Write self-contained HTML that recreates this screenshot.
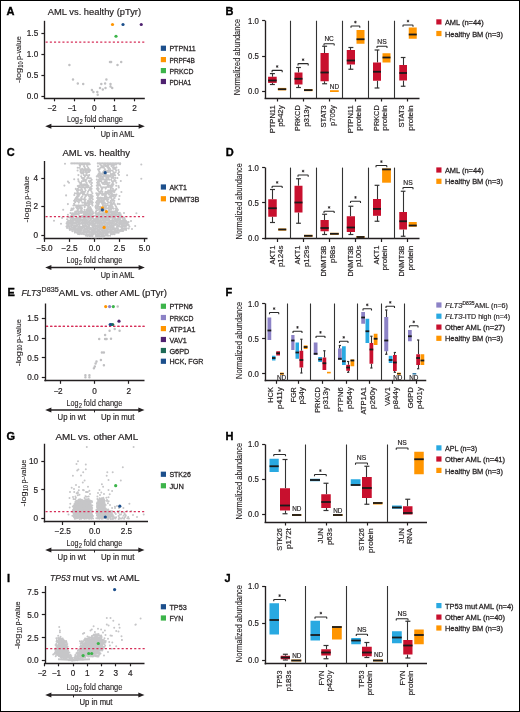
<!DOCTYPE html>
<html><head><meta charset="utf-8"><style>
html,body{margin:0;padding:0;background:#fff;overflow:hidden}
svg{will-change:transform}
svg{display:block;font-family:"Liberation Sans", sans-serif;fill:#231f20}
text{stroke:#231f20;stroke-width:0.18px;paint-order:stroke}
text.tk{stroke-width:0.2px}
text.al{stroke-width:0.12px}
text.lt{stroke:#000;stroke-width:0.35px}
text.st{stroke-width:0.15px}
text.lg{stroke-width:0.26px}
</style></head><body>
<svg width="520" height="712" viewBox="0 0 520 712">
<rect width="520" height="712" fill="#fff"/>
<rect x="0.5" y="0.5" width="519" height="711" fill="none" stroke="#000" stroke-width="1"/>
<text x="6.60" y="14.80" font-size="11.0" class="lt" font-weight="bold" fill="#000">A</text>
<text x="47.85" y="15.00" font-size="8.7" textLength="93.20" lengthAdjust="spacingAndGlyphs">AML vs. healthy (pTyr)</text>
<line x1="44.50" y1="20.80" x2="44.50" y2="98.70" stroke="#231f20" stroke-width="1.35"/>
<line x1="43.90" y1="98.50" x2="144.80" y2="98.50" stroke="#231f20" stroke-width="1.35"/>
<line x1="41.40" y1="96.50" x2="44.60" y2="96.50" stroke="#231f20" stroke-width="1.2"/>
<text x="38.20" y="99.40" font-size="8.2" class="tk" text-anchor="end">0.0</text>
<line x1="41.40" y1="75.50" x2="44.60" y2="75.50" stroke="#231f20" stroke-width="1.2"/>
<text x="38.20" y="78.40" font-size="8.2" class="tk" text-anchor="end">0.5</text>
<line x1="41.40" y1="54.50" x2="44.60" y2="54.50" stroke="#231f20" stroke-width="1.2"/>
<text x="38.20" y="57.40" font-size="8.2" class="tk" text-anchor="end">1.0</text>
<line x1="41.40" y1="33.50" x2="44.60" y2="33.50" stroke="#231f20" stroke-width="1.2"/>
<text x="38.20" y="36.40" font-size="8.2" class="tk" text-anchor="end">1.5</text>
<line x1="54.50" y1="98.00" x2="54.50" y2="101.30" stroke="#231f20" stroke-width="1.2"/>
<text x="54.20" y="110.70" font-size="8.2" class="tk" text-anchor="middle">2</text>
<text x="52.60" y="110.70" font-size="8.2" class="tk" text-anchor="end">−</text>
<line x1="74.50" y1="98.00" x2="74.50" y2="101.30" stroke="#231f20" stroke-width="1.2"/>
<text x="74.30" y="110.70" font-size="8.2" class="tk" text-anchor="middle">1</text>
<text x="72.70" y="110.70" font-size="8.2" class="tk" text-anchor="end">−</text>
<line x1="94.50" y1="98.00" x2="94.50" y2="101.30" stroke="#231f20" stroke-width="1.2"/>
<text x="94.40" y="110.70" font-size="8.2" class="tk" text-anchor="middle">0</text>
<line x1="114.50" y1="98.00" x2="114.50" y2="101.30" stroke="#231f20" stroke-width="1.2"/>
<text x="114.50" y="110.70" font-size="8.2" class="tk" text-anchor="middle">1</text>
<line x1="134.50" y1="98.00" x2="134.50" y2="101.30" stroke="#231f20" stroke-width="1.2"/>
<text x="134.60" y="110.70" font-size="8.2" class="tk" text-anchor="middle">2</text>
<line x1="45.60" y1="42.00" x2="144.80" y2="42.00" stroke="#d62e58" stroke-width="1.25" stroke-dasharray="2.1 2.1"/>
<text transform="translate(20.90 83.00) rotate(-90)" font-size="8.0" class="al" textLength="15.00" lengthAdjust="spacingAndGlyphs">-log</text>
<text transform="translate(22.50 67.70) rotate(-90)" font-size="6.4" class="al" textLength="6.20" lengthAdjust="spacingAndGlyphs">10</text>
<text transform="translate(20.90 59.90) rotate(-90)" font-size="8.0" class="al" textLength="23.60" lengthAdjust="spacingAndGlyphs">p-value</text>
<text x="67.10" y="122.10" font-size="8.9" class="al" textLength="12.00" lengthAdjust="spacingAndGlyphs">Log</text>
<text x="79.40" y="124.40" font-size="6.3" class="al" textLength="3.20" lengthAdjust="spacingAndGlyphs">2</text>
<text x="84.40" y="122.10" font-size="8.9" class="al" textLength="38.60" lengthAdjust="spacingAndGlyphs">fold change</text>
<line x1="49.20" y1="126.30" x2="140.80" y2="126.30" stroke="#231f20" stroke-width="1.35"/>
<path d="M45.20 126.30 L51.40 123.80 L51.40 128.80 Z" fill="#231f20"/>
<path d="M144.80 126.30 L138.60 123.80 L138.60 128.80 Z" fill="#231f20"/>
<line x1="94.50" y1="126.30" x2="94.50" y2="128.70" stroke="#231f20" stroke-width="1"/>
<text x="100.70" y="136.70" font-size="8.4" textLength="33.70" lengthAdjust="spacingAndGlyphs">Up in AML</text>
<path d="M69.4 65.1h0M73.0 79.6h0M77.8 83.6h0M83.2 83.9h0M91.9 90.0h0M93.4 92.0h0M97.3 92.0h0M97.7 94.8h0M100.0 88.1h0M102.8 89.4h0M101.3 83.9h0M105.1 83.4h0M105.5 88.0h0M106.4 79.6h0M110.5 83.9h0M110.5 86.6h0M112.2 88.0h0M110.0 62.1h0M111.1 62.1h0M117.5 65.1h0M121.2 62.1h0" stroke="#c0c0c2" stroke-width="2.50" stroke-linecap="round" fill="none"/>
<circle cx="112.50" cy="24.50" r="1.6" fill="#ff9500"/>
<circle cx="123.00" cy="24.50" r="1.6" fill="#1c4f8c"/>
<circle cx="141.25" cy="24.50" r="1.6" fill="#4f2270"/>
<circle cx="116.00" cy="36.25" r="1.6" fill="#3cb44a"/>
<rect x="160.80" y="45.65" width="5.20" height="5.20" fill="#1c4f8c"/>
<text x="169.40" y="51.35" font-size="7.7" class="lg" textLength="26.20" lengthAdjust="spacingAndGlyphs">PTPN11</text>
<rect x="160.80" y="57.00" width="5.20" height="5.20" fill="#ff9500"/>
<text x="169.40" y="62.70" font-size="7.7" class="lg" textLength="25.50" lengthAdjust="spacingAndGlyphs">PRPF4B</text>
<rect x="160.80" y="68.00" width="5.20" height="5.20" fill="#3cb44a"/>
<text x="169.40" y="73.70" font-size="7.7" class="lg" textLength="24.00" lengthAdjust="spacingAndGlyphs">PRKCD</text>
<rect x="160.80" y="78.90" width="5.20" height="5.20" fill="#4f2270"/>
<text x="169.40" y="84.60" font-size="7.7" class="lg" textLength="21.80" lengthAdjust="spacingAndGlyphs">PDHA1</text>
<text x="225.60" y="14.80" font-size="11.0" class="lt" font-weight="bold" fill="#000">B</text>
<line x1="265.50" y1="20.75" x2="265.50" y2="98.90" stroke="#231f20" stroke-width="1.35"/>
<line x1="264.60" y1="98.50" x2="419.50" y2="98.50" stroke="#231f20" stroke-width="1.35"/>
<line x1="262.10" y1="91.50" x2="265.30" y2="91.50" stroke="#231f20" stroke-width="1.2"/>
<text x="258.90" y="94.40" font-size="8.2" class="tk" text-anchor="end" textLength="10.80" lengthAdjust="spacingAndGlyphs">0.0</text>
<line x1="262.10" y1="56.50" x2="265.30" y2="56.50" stroke="#231f20" stroke-width="1.2"/>
<text x="258.90" y="59.02" font-size="8.2" class="tk" text-anchor="end" textLength="10.80" lengthAdjust="spacingAndGlyphs">0.5</text>
<line x1="262.10" y1="20.50" x2="265.30" y2="20.50" stroke="#231f20" stroke-width="1.2"/>
<text x="258.90" y="23.65" font-size="8.2" class="tk" text-anchor="end" textLength="10.80" lengthAdjust="spacingAndGlyphs">1.0</text>
<line x1="290.50" y1="20.75" x2="290.50" y2="98.20" stroke="#333" stroke-width="1.1"/>
<line x1="316.50" y1="20.75" x2="316.50" y2="98.20" stroke="#333" stroke-width="1.1"/>
<line x1="342.50" y1="20.75" x2="342.50" y2="98.20" stroke="#333" stroke-width="1.1"/>
<line x1="368.50" y1="20.75" x2="368.50" y2="98.20" stroke="#333" stroke-width="1.1"/>
<line x1="394.50" y1="20.75" x2="394.50" y2="98.20" stroke="#333" stroke-width="1.1"/>
<line x1="277.50" y1="98.20" x2="277.50" y2="101.50" stroke="#231f20" stroke-width="1.2"/>
<line x1="303.50" y1="98.20" x2="303.50" y2="101.50" stroke="#231f20" stroke-width="1.2"/>
<line x1="329.50" y1="98.20" x2="329.50" y2="101.50" stroke="#231f20" stroke-width="1.2"/>
<line x1="355.50" y1="98.20" x2="355.50" y2="101.50" stroke="#231f20" stroke-width="1.2"/>
<line x1="381.50" y1="98.20" x2="381.50" y2="101.50" stroke="#231f20" stroke-width="1.2"/>
<line x1="407.50" y1="98.20" x2="407.50" y2="101.50" stroke="#231f20" stroke-width="1.2"/>
<text transform="translate(240.00 95.30) rotate(-90)" font-size="9.9" class="al" textLength="76.45" lengthAdjust="spacingAndGlyphs">Normalized abundance</text>
<line x1="272.50" y1="73.60" x2="272.50" y2="76.75" stroke="#333" stroke-width="1.1"/>
<line x1="269.90" y1="73.60" x2="274.90" y2="73.60" stroke="#333" stroke-width="1.2"/>
<line x1="272.50" y1="82.90" x2="272.50" y2="84.50" stroke="#333" stroke-width="1.1"/>
<line x1="269.90" y1="84.50" x2="274.90" y2="84.50" stroke="#333" stroke-width="1.2"/>
<rect x="268.10" y="76.75" width="8.60" height="6.15" fill="#c8102e"/>
<line x1="268.10" y1="80.50" x2="276.70" y2="80.50" stroke="#1a1a1a" stroke-width="1.8"/>
<rect x="277.90" y="87.90" width="8.30" height="2.50" fill="#ff9500"/>
<line x1="277.90" y1="89.20" x2="286.20" y2="89.20" stroke="#1a1a1a" stroke-width="1.8"/>
<line x1="298.50" y1="67.50" x2="298.50" y2="72.50" stroke="#333" stroke-width="1.1"/>
<line x1="296.10" y1="67.50" x2="300.90" y2="67.50" stroke="#333" stroke-width="1.2"/>
<line x1="298.50" y1="84.50" x2="298.50" y2="87.50" stroke="#333" stroke-width="1.1"/>
<line x1="296.10" y1="87.50" x2="300.90" y2="87.50" stroke="#333" stroke-width="1.2"/>
<rect x="294.50" y="72.50" width="8.00" height="12.00" fill="#c8102e"/>
<line x1="294.50" y1="78.75" x2="302.50" y2="78.75" stroke="#1a1a1a" stroke-width="1.8"/>
<rect x="304.00" y="89.00" width="8.50" height="2.20" fill="#ff9500"/>
<line x1="304.00" y1="90.10" x2="312.50" y2="90.10" stroke="#1a1a1a" stroke-width="1.8"/>
<line x1="324.50" y1="46.25" x2="324.50" y2="53.00" stroke="#333" stroke-width="1.1"/>
<line x1="322.15" y1="46.25" x2="327.10" y2="46.25" stroke="#333" stroke-width="1.2"/>
<line x1="324.50" y1="81.25" x2="324.50" y2="83.75" stroke="#333" stroke-width="1.1"/>
<line x1="322.15" y1="83.75" x2="327.10" y2="83.75" stroke="#333" stroke-width="1.2"/>
<rect x="320.50" y="53.00" width="8.25" height="28.25" fill="#c8102e"/>
<line x1="320.50" y1="72.50" x2="328.75" y2="72.50" stroke="#1a1a1a" stroke-width="1.8"/>
<rect x="330.00" y="90.20" width="8.75" height="1.80" fill="#ff9500"/>
<text x="334.40" y="89.10" font-size="6.6" text-anchor="middle" textLength="9.20" lengthAdjust="spacingAndGlyphs">ND</text>
<line x1="350.50" y1="47.50" x2="350.50" y2="50.00" stroke="#333" stroke-width="1.1"/>
<line x1="348.40" y1="47.50" x2="353.35" y2="47.50" stroke="#333" stroke-width="1.2"/>
<line x1="350.50" y1="64.50" x2="350.50" y2="69.25" stroke="#333" stroke-width="1.1"/>
<line x1="348.40" y1="69.25" x2="353.35" y2="69.25" stroke="#333" stroke-width="1.2"/>
<rect x="346.75" y="50.00" width="8.25" height="14.50" fill="#c8102e"/>
<line x1="346.75" y1="60.50" x2="355.00" y2="60.50" stroke="#1a1a1a" stroke-width="1.8"/>
<rect x="356.50" y="30.00" width="8.00" height="13.75" fill="#ff9500"/>
<line x1="356.50" y1="39.25" x2="364.50" y2="39.25" stroke="#1a1a1a" stroke-width="1.8"/>
<line x1="377.50" y1="50.00" x2="377.50" y2="62.50" stroke="#333" stroke-width="1.1"/>
<line x1="374.60" y1="50.00" x2="379.40" y2="50.00" stroke="#333" stroke-width="1.2"/>
<line x1="377.50" y1="80.75" x2="377.50" y2="88.00" stroke="#333" stroke-width="1.1"/>
<line x1="374.60" y1="88.00" x2="379.40" y2="88.00" stroke="#333" stroke-width="1.2"/>
<rect x="373.00" y="62.50" width="8.00" height="18.25" fill="#c8102e"/>
<line x1="373.00" y1="71.75" x2="381.00" y2="71.75" stroke="#1a1a1a" stroke-width="1.8"/>
<rect x="382.50" y="53.25" width="8.00" height="9.25" fill="#ff9500"/>
<line x1="382.50" y1="57.50" x2="390.50" y2="57.50" stroke="#1a1a1a" stroke-width="1.8"/>
<line x1="403.50" y1="57.50" x2="403.50" y2="65.00" stroke="#333" stroke-width="1.1"/>
<line x1="400.80" y1="57.50" x2="405.45" y2="57.50" stroke="#333" stroke-width="1.2"/>
<line x1="403.50" y1="80.50" x2="403.50" y2="86.25" stroke="#333" stroke-width="1.1"/>
<line x1="400.80" y1="86.25" x2="405.45" y2="86.25" stroke="#333" stroke-width="1.2"/>
<rect x="399.25" y="65.00" width="7.75" height="15.50" fill="#c8102e"/>
<line x1="399.25" y1="73.00" x2="407.00" y2="73.00" stroke="#1a1a1a" stroke-width="1.8"/>
<rect x="408.75" y="27.50" width="8.00" height="11.25" fill="#ff9500"/>
<line x1="408.75" y1="34.50" x2="416.75" y2="34.50" stroke="#1a1a1a" stroke-width="1.8"/>
<path d="M272.10 72.20 V71.00 Q272.10 70.40 272.70 70.40 H281.60 Q282.20 70.40 282.20 71.00 V72.20" stroke="#2a2a2a" stroke-width="1.1" fill="none"/>
<path d="M277.15 65.15L277.15 67.85M275.98 65.83L278.32 67.17M278.32 65.83L275.98 67.17" stroke="#231f20" stroke-width="0.75" fill="none"/>
<path d="M298.00 65.40 V64.20 Q298.00 63.60 298.60 63.60 H307.60 Q308.20 63.60 308.20 64.20 V65.40" stroke="#2a2a2a" stroke-width="1.1" fill="none"/>
<path d="M303.10 58.35L303.10 61.05M301.93 59.03L304.27 60.38M304.27 59.03L301.93 60.38" stroke="#231f20" stroke-width="0.75" fill="none"/>
<path d="M324.00 45.60 V44.40 Q324.00 43.80 324.60 43.80 H333.60 Q334.20 43.80 334.20 44.40 V45.60" stroke="#2a2a2a" stroke-width="1.1" fill="none"/>
<text x="329.10" y="41.20" font-size="6.8" text-anchor="middle" textLength="9.40" lengthAdjust="spacingAndGlyphs">NC</text>
<path d="M351.00 27.80 V26.60 Q351.00 26.00 351.60 26.00 H359.20 Q359.80 26.00 359.80 26.60 V27.80" stroke="#2a2a2a" stroke-width="1.1" fill="none"/>
<path d="M355.40 20.75L355.40 23.45M354.23 21.43L356.57 22.78M356.57 21.43L354.23 22.78" stroke="#231f20" stroke-width="0.75" fill="none"/>
<path d="M377.00 48.00 V46.80 Q377.00 46.20 377.60 46.20 H386.40 Q387.00 46.20 387.00 46.80 V48.00" stroke="#2a2a2a" stroke-width="1.1" fill="none"/>
<text x="382.00" y="43.60" font-size="6.8" text-anchor="middle" textLength="9.40" lengthAdjust="spacingAndGlyphs">NS</text>
<path d="M403.00 26.80 V25.60 Q403.00 25.00 403.60 25.00 H412.40 Q413.00 25.00 413.00 25.60 V26.80" stroke="#2a2a2a" stroke-width="1.1" fill="none"/>
<path d="M408.00 19.75L408.00 22.45M406.83 20.43L409.17 21.78M409.17 20.43L406.83 21.78" stroke="#231f20" stroke-width="0.75" fill="none"/>
<text transform="translate(274.90 105.30) rotate(-90)" font-size="7.9" text-anchor="end" textLength="28.00" lengthAdjust="spacingAndGlyphs">PTPN11</text>
<text transform="translate(283.40 105.30) rotate(-90)" font-size="7.9" text-anchor="end" textLength="21.50" lengthAdjust="spacingAndGlyphs">p542y</text>
<text transform="translate(300.40 105.30) rotate(-90)" font-size="7.9" text-anchor="end" textLength="25.70" lengthAdjust="spacingAndGlyphs">PRKCD</text>
<text transform="translate(308.90 105.30) rotate(-90)" font-size="7.9" text-anchor="end" textLength="21.50" lengthAdjust="spacingAndGlyphs">p313y</text>
<text transform="translate(326.30 105.30) rotate(-90)" font-size="7.9" text-anchor="end" textLength="22.30" lengthAdjust="spacingAndGlyphs">STAT3</text>
<text transform="translate(334.80 105.30) rotate(-90)" font-size="7.9" text-anchor="end" textLength="20.80" lengthAdjust="spacingAndGlyphs">p705y</text>
<text transform="translate(352.50 105.30) rotate(-90)" font-size="7.9" text-anchor="end" textLength="28.00" lengthAdjust="spacingAndGlyphs">PTPN11</text>
<text transform="translate(361.00 105.30) rotate(-90)" font-size="7.9" text-anchor="end" textLength="25.40" lengthAdjust="spacingAndGlyphs">protein</text>
<text transform="translate(378.50 105.30) rotate(-90)" font-size="7.9" text-anchor="end" textLength="25.70" lengthAdjust="spacingAndGlyphs">PRKCD</text>
<text transform="translate(387.00 105.30) rotate(-90)" font-size="7.9" text-anchor="end" textLength="25.40" lengthAdjust="spacingAndGlyphs">protein</text>
<text transform="translate(404.00 105.30) rotate(-90)" font-size="7.9" text-anchor="end" textLength="22.30" lengthAdjust="spacingAndGlyphs">STAT3</text>
<text transform="translate(412.50 105.30) rotate(-90)" font-size="7.9" text-anchor="end" textLength="25.40" lengthAdjust="spacingAndGlyphs">protein</text>
<rect x="436.30" y="19.30" width="5.20" height="5.20" fill="#c8102e"/>
<text x="444.90" y="25.00" font-size="7.7" class="lg" textLength="38.80" lengthAdjust="spacingAndGlyphs">AML (n=44)</text>
<rect x="436.30" y="30.90" width="5.20" height="5.20" fill="#ff9500"/>
<text x="444.90" y="36.60" font-size="7.7" class="lg" textLength="58.00" lengthAdjust="spacingAndGlyphs">Healthy BM (n=3)</text>
<text x="6.80" y="155.90" font-size="11.0" class="lt" font-weight="bold" fill="#000">C</text>
<text x="62.50" y="155.50" font-size="8.7" textLength="67.50" lengthAdjust="spacingAndGlyphs">AML vs. healthy</text>
<line x1="44.50" y1="161.00" x2="44.50" y2="239.30" stroke="#231f20" stroke-width="1.35"/>
<line x1="43.80" y1="238.50" x2="147.50" y2="238.50" stroke="#231f20" stroke-width="1.35"/>
<line x1="41.30" y1="235.50" x2="44.50" y2="235.50" stroke="#231f20" stroke-width="1.2"/>
<text x="38.10" y="237.90" font-size="8.2" class="tk" text-anchor="end">0</text>
<line x1="41.30" y1="206.50" x2="44.50" y2="206.50" stroke="#231f20" stroke-width="1.2"/>
<text x="38.10" y="209.40" font-size="8.2" class="tk" text-anchor="end">2</text>
<line x1="41.30" y1="178.50" x2="44.50" y2="178.50" stroke="#231f20" stroke-width="1.2"/>
<text x="38.10" y="180.90" font-size="8.2" class="tk" text-anchor="end">4</text>
<line x1="44.50" y1="238.60" x2="44.50" y2="241.90" stroke="#231f20" stroke-width="1.2"/>
<text x="44.50" y="251.30" font-size="8.2" class="tk" text-anchor="middle">−5.0</text>
<line x1="69.50" y1="238.60" x2="69.50" y2="241.90" stroke="#231f20" stroke-width="1.2"/>
<text x="69.50" y="251.30" font-size="8.2" class="tk" text-anchor="middle">−2.5</text>
<line x1="94.50" y1="238.60" x2="94.50" y2="241.90" stroke="#231f20" stroke-width="1.2"/>
<text x="94.50" y="251.30" font-size="8.2" class="tk" text-anchor="middle">0.0</text>
<line x1="119.50" y1="238.60" x2="119.50" y2="241.90" stroke="#231f20" stroke-width="1.2"/>
<text x="119.50" y="251.30" font-size="8.2" class="tk" text-anchor="middle">2.5</text>
<line x1="144.50" y1="238.60" x2="144.50" y2="241.90" stroke="#231f20" stroke-width="1.2"/>
<text x="144.50" y="251.30" font-size="8.2" class="tk" text-anchor="middle">5.0</text>
<text transform="translate(28.90 222.50) rotate(-90)" font-size="8.0" class="al" textLength="14.84" lengthAdjust="spacingAndGlyphs">-log</text>
<text transform="translate(30.50 207.36) rotate(-90)" font-size="6.4" class="al" textLength="6.13" lengthAdjust="spacingAndGlyphs">10</text>
<text transform="translate(28.90 199.65) rotate(-90)" font-size="8.0" class="al" textLength="23.35" lengthAdjust="spacingAndGlyphs">p-value</text>
<text x="66.50" y="263.00" font-size="8.9" class="al" textLength="12.00" lengthAdjust="spacingAndGlyphs">Log</text>
<text x="78.80" y="265.30" font-size="6.3" class="al" textLength="3.20" lengthAdjust="spacingAndGlyphs">2</text>
<text x="83.80" y="263.00" font-size="8.9" class="al" textLength="38.60" lengthAdjust="spacingAndGlyphs">fold change</text>
<line x1="49.20" y1="267.50" x2="140.80" y2="267.50" stroke="#231f20" stroke-width="1.35"/>
<path d="M45.20 267.50 L51.40 265.00 L51.40 270.00 Z" fill="#231f20"/>
<path d="M144.80 267.50 L138.60 265.00 L138.60 270.00 Z" fill="#231f20"/>
<line x1="94.50" y1="267.50" x2="94.50" y2="269.90" stroke="#231f20" stroke-width="1"/>
<text x="100.70" y="277.50" font-size="8.4" textLength="33.70" lengthAdjust="spacingAndGlyphs">Up in AML</text>
<rect x="160.80" y="184.40" width="5.20" height="5.20" fill="#1c4f8c"/>
<text x="169.40" y="190.10" font-size="7.7" class="lg" textLength="17.50" lengthAdjust="spacingAndGlyphs">AKT1</text>
<rect x="160.80" y="196.15" width="5.20" height="5.20" fill="#ff9500"/>
<text x="169.40" y="201.85" font-size="7.7" class="lg" textLength="30.00" lengthAdjust="spacingAndGlyphs">DNMT3B</text>
<text x="225.80" y="155.90" font-size="11.0" class="lt" font-weight="bold" fill="#000">D</text>
<line x1="265.50" y1="167.60" x2="265.50" y2="239.40" stroke="#231f20" stroke-width="1.35"/>
<line x1="264.60" y1="238.50" x2="419.50" y2="238.50" stroke="#231f20" stroke-width="1.35"/>
<line x1="262.10" y1="238.50" x2="265.30" y2="238.50" stroke="#231f20" stroke-width="1.2"/>
<text x="258.90" y="241.10" font-size="8.2" class="tk" text-anchor="end" textLength="10.80" lengthAdjust="spacingAndGlyphs">0.0</text>
<line x1="262.10" y1="202.50" x2="265.30" y2="202.50" stroke="#231f20" stroke-width="1.2"/>
<text x="258.90" y="205.80" font-size="8.2" class="tk" text-anchor="end" textLength="10.80" lengthAdjust="spacingAndGlyphs">0.5</text>
<line x1="262.10" y1="167.50" x2="265.30" y2="167.50" stroke="#231f20" stroke-width="1.2"/>
<text x="258.90" y="170.50" font-size="8.2" class="tk" text-anchor="end" textLength="10.80" lengthAdjust="spacingAndGlyphs">1.0</text>
<line x1="290.50" y1="167.60" x2="290.50" y2="238.70" stroke="#333" stroke-width="1.1"/>
<line x1="316.50" y1="167.60" x2="316.50" y2="238.70" stroke="#333" stroke-width="1.1"/>
<line x1="342.50" y1="167.60" x2="342.50" y2="238.70" stroke="#333" stroke-width="1.1"/>
<line x1="368.50" y1="167.60" x2="368.50" y2="238.70" stroke="#333" stroke-width="1.1"/>
<line x1="394.50" y1="167.60" x2="394.50" y2="238.70" stroke="#333" stroke-width="1.1"/>
<line x1="277.50" y1="238.70" x2="277.50" y2="242.00" stroke="#231f20" stroke-width="1.2"/>
<line x1="303.50" y1="238.70" x2="303.50" y2="242.00" stroke="#231f20" stroke-width="1.2"/>
<line x1="329.50" y1="238.70" x2="329.50" y2="242.00" stroke="#231f20" stroke-width="1.2"/>
<line x1="355.50" y1="238.70" x2="355.50" y2="242.00" stroke="#231f20" stroke-width="1.2"/>
<line x1="381.50" y1="238.70" x2="381.50" y2="242.00" stroke="#231f20" stroke-width="1.2"/>
<line x1="407.50" y1="238.70" x2="407.50" y2="242.00" stroke="#231f20" stroke-width="1.2"/>
<text transform="translate(241.90 239.50) rotate(-90)" font-size="9.9" class="al" textLength="76.30" lengthAdjust="spacingAndGlyphs">Normalized abundance</text>
<line x1="272.50" y1="189.50" x2="272.50" y2="199.25" stroke="#333" stroke-width="1.1"/>
<line x1="270.00" y1="189.50" x2="275.00" y2="189.50" stroke="#333" stroke-width="1.2"/>
<line x1="272.50" y1="216.75" x2="272.50" y2="222.50" stroke="#333" stroke-width="1.1"/>
<line x1="270.00" y1="222.50" x2="275.00" y2="222.50" stroke="#333" stroke-width="1.2"/>
<rect x="268.25" y="199.25" width="8.50" height="17.50" fill="#c8102e"/>
<line x1="268.25" y1="208.25" x2="276.75" y2="208.25" stroke="#1a1a1a" stroke-width="1.8"/>
<rect x="278.25" y="228.50" width="8.00" height="2.10" fill="#ff9500"/>
<line x1="278.25" y1="229.50" x2="286.25" y2="229.50" stroke="#1a1a1a" stroke-width="1.8"/>
<line x1="298.50" y1="178.75" x2="298.50" y2="185.75" stroke="#333" stroke-width="1.1"/>
<line x1="296.10" y1="178.75" x2="300.90" y2="178.75" stroke="#333" stroke-width="1.2"/>
<line x1="298.50" y1="212.50" x2="298.50" y2="223.25" stroke="#333" stroke-width="1.1"/>
<line x1="296.10" y1="223.25" x2="300.90" y2="223.25" stroke="#333" stroke-width="1.2"/>
<rect x="294.50" y="185.75" width="8.00" height="26.75" fill="#c8102e"/>
<line x1="294.50" y1="202.50" x2="302.50" y2="202.50" stroke="#1a1a1a" stroke-width="1.8"/>
<rect x="304.00" y="234.80" width="8.50" height="2.00" fill="#ff9500"/>
<line x1="304.00" y1="235.80" x2="312.50" y2="235.80" stroke="#1a1a1a" stroke-width="1.8"/>
<line x1="324.50" y1="214.25" x2="324.50" y2="220.00" stroke="#333" stroke-width="1.1"/>
<line x1="322.15" y1="214.25" x2="327.10" y2="214.25" stroke="#333" stroke-width="1.2"/>
<line x1="324.50" y1="231.25" x2="324.50" y2="234.50" stroke="#333" stroke-width="1.1"/>
<line x1="322.15" y1="234.50" x2="327.10" y2="234.50" stroke="#333" stroke-width="1.2"/>
<rect x="320.50" y="220.00" width="8.25" height="11.25" fill="#c8102e"/>
<line x1="320.50" y1="228.00" x2="328.75" y2="228.00" stroke="#1a1a1a" stroke-width="1.8"/>
<rect x="330.00" y="232.80" width="8.75" height="2.00" fill="#ff9500"/>
<line x1="330.00" y1="233.80" x2="338.75" y2="233.80" stroke="#1a1a1a" stroke-width="1.8"/>
<line x1="350.50" y1="206.25" x2="350.50" y2="216.25" stroke="#333" stroke-width="1.1"/>
<line x1="348.40" y1="206.25" x2="353.35" y2="206.25" stroke="#333" stroke-width="1.2"/>
<line x1="350.50" y1="232.00" x2="350.50" y2="234.50" stroke="#333" stroke-width="1.1"/>
<line x1="348.40" y1="234.50" x2="353.35" y2="234.50" stroke="#333" stroke-width="1.2"/>
<rect x="346.75" y="216.25" width="8.25" height="15.75" fill="#c8102e"/>
<line x1="346.75" y1="227.50" x2="355.00" y2="227.50" stroke="#1a1a1a" stroke-width="1.8"/>
<rect x="356.50" y="236.00" width="8.00" height="2.00" fill="#ff9500"/>
<line x1="356.50" y1="237.00" x2="364.50" y2="237.00" stroke="#1a1a1a" stroke-width="1.8"/>
<line x1="377.50" y1="185.30" x2="377.50" y2="199.00" stroke="#333" stroke-width="1.1"/>
<line x1="374.60" y1="185.30" x2="379.40" y2="185.30" stroke="#333" stroke-width="1.2"/>
<line x1="377.50" y1="215.80" x2="377.50" y2="221.25" stroke="#333" stroke-width="1.1"/>
<line x1="374.60" y1="221.25" x2="379.40" y2="221.25" stroke="#333" stroke-width="1.2"/>
<rect x="373.00" y="199.00" width="8.00" height="16.80" fill="#c8102e"/>
<line x1="373.00" y1="208.90" x2="381.00" y2="208.90" stroke="#1a1a1a" stroke-width="1.8"/>
<rect x="382.10" y="168.40" width="8.80" height="14.30" fill="#ff9500"/>
<line x1="382.10" y1="169.40" x2="390.90" y2="169.40" stroke="#1a1a1a" stroke-width="1.8"/>
<line x1="403.50" y1="191.25" x2="403.50" y2="212.00" stroke="#333" stroke-width="1.1"/>
<line x1="400.80" y1="191.25" x2="405.45" y2="191.25" stroke="#333" stroke-width="1.2"/>
<line x1="403.50" y1="229.50" x2="403.50" y2="236.25" stroke="#333" stroke-width="1.1"/>
<line x1="400.80" y1="236.25" x2="405.45" y2="236.25" stroke="#333" stroke-width="1.2"/>
<rect x="399.25" y="212.00" width="7.75" height="17.50" fill="#c8102e"/>
<line x1="399.25" y1="221.25" x2="407.00" y2="221.25" stroke="#1a1a1a" stroke-width="1.8"/>
<rect x="408.75" y="222.00" width="8.00" height="4.75" fill="#ff9500"/>
<line x1="408.75" y1="225.50" x2="416.75" y2="225.50" stroke="#1a1a1a" stroke-width="1.8"/>
<path d="M272.10 188.10 V186.90 Q272.10 186.30 272.70 186.30 H281.60 Q282.20 186.30 282.20 186.90 V188.10" stroke="#2a2a2a" stroke-width="1.1" fill="none"/>
<path d="M277.15 181.05L277.15 183.75M275.98 181.72L278.32 183.08M278.32 181.72L275.98 183.08" stroke="#231f20" stroke-width="0.75" fill="none"/>
<path d="M298.00 176.80 V175.60 Q298.00 175.00 298.60 175.00 H307.60 Q308.20 175.00 308.20 175.60 V176.80" stroke="#2a2a2a" stroke-width="1.1" fill="none"/>
<path d="M303.10 169.75L303.10 172.45M301.93 170.42L304.27 171.78M304.27 170.42L301.93 171.78" stroke="#231f20" stroke-width="0.75" fill="none"/>
<path d="M324.00 213.10 V211.90 Q324.00 211.30 324.60 211.30 H333.60 Q334.20 211.30 334.20 211.90 V213.10" stroke="#2a2a2a" stroke-width="1.1" fill="none"/>
<path d="M329.10 206.05L329.10 208.75M327.93 206.72L330.27 208.08M330.27 206.72L327.93 208.08" stroke="#231f20" stroke-width="0.75" fill="none"/>
<path d="M350.50 203.10 V201.90 Q350.50 201.30 351.10 201.30 H359.90 Q360.50 201.30 360.50 201.90 V203.10" stroke="#2a2a2a" stroke-width="1.1" fill="none"/>
<path d="M355.50 196.05L355.50 198.75M354.33 196.72L356.67 198.08M356.67 196.72L354.33 198.08" stroke="#231f20" stroke-width="0.75" fill="none"/>
<path d="M376.00 167.30 V166.10 Q376.00 165.50 376.60 165.50 H386.20 Q386.80 165.50 386.80 166.10 V167.30" stroke="#2a2a2a" stroke-width="1.1" fill="none"/>
<path d="M381.40 160.25L381.40 162.95M380.23 160.92L382.57 162.28M382.57 160.92L380.23 162.28" stroke="#231f20" stroke-width="0.75" fill="none"/>
<path d="M403.00 189.30 V188.10 Q403.00 187.50 403.60 187.50 H412.40 Q413.00 187.50 413.00 188.10 V189.30" stroke="#2a2a2a" stroke-width="1.1" fill="none"/>
<text x="408.00" y="184.90" font-size="6.8" text-anchor="middle" textLength="9.40" lengthAdjust="spacingAndGlyphs">NS</text>
<text transform="translate(274.90 245.60) rotate(-90)" font-size="7.9" text-anchor="end" textLength="19.00" lengthAdjust="spacingAndGlyphs">AKT1</text>
<text transform="translate(283.40 245.60) rotate(-90)" font-size="7.9" text-anchor="end" textLength="21.50" lengthAdjust="spacingAndGlyphs">p124s</text>
<text transform="translate(300.40 245.60) rotate(-90)" font-size="7.9" text-anchor="end" textLength="19.00" lengthAdjust="spacingAndGlyphs">AKT1</text>
<text transform="translate(308.90 245.60) rotate(-90)" font-size="7.9" text-anchor="end" textLength="21.50" lengthAdjust="spacingAndGlyphs">p129s</text>
<text transform="translate(326.30 245.60) rotate(-90)" font-size="7.9" text-anchor="end" textLength="31.00" lengthAdjust="spacingAndGlyphs">DNMT3B</text>
<text transform="translate(334.80 245.60) rotate(-90)" font-size="7.9" text-anchor="end" textLength="17.50" lengthAdjust="spacingAndGlyphs">p98s</text>
<text transform="translate(352.50 245.60) rotate(-90)" font-size="7.9" text-anchor="end" textLength="31.00" lengthAdjust="spacingAndGlyphs">DNMT3B</text>
<text transform="translate(361.00 245.60) rotate(-90)" font-size="7.9" text-anchor="end" textLength="21.50" lengthAdjust="spacingAndGlyphs">p100s</text>
<text transform="translate(378.50 245.60) rotate(-90)" font-size="7.9" text-anchor="end" textLength="19.00" lengthAdjust="spacingAndGlyphs">AKT1</text>
<text transform="translate(387.00 245.60) rotate(-90)" font-size="7.9" text-anchor="end" textLength="25.00" lengthAdjust="spacingAndGlyphs">protein</text>
<text transform="translate(404.00 245.60) rotate(-90)" font-size="7.9" text-anchor="end" textLength="31.00" lengthAdjust="spacingAndGlyphs">DNMT3B</text>
<text transform="translate(412.50 245.60) rotate(-90)" font-size="7.9" text-anchor="end" textLength="25.00" lengthAdjust="spacingAndGlyphs">protein</text>
<rect x="436.30" y="167.40" width="5.20" height="5.20" fill="#c8102e"/>
<text x="444.90" y="173.10" font-size="7.7" class="lg" textLength="38.80" lengthAdjust="spacingAndGlyphs">AML (n=44)</text>
<rect x="436.30" y="178.70" width="5.20" height="5.20" fill="#ff9500"/>
<text x="444.90" y="184.40" font-size="7.7" class="lg" textLength="58.00" lengthAdjust="spacingAndGlyphs">Healthy BM (n=3)</text>
<path d="M79.5 164.7h0M81.5 164.3h0M82.9 164.5h0M84.5 164.4h0M86.7 164.6h0M88.4 164.3h0M89.8 164.3h0M100.4 164.7h0M104.2 164.5h0M105.6 164.7h0M107.7 164.7h0M109.2 164.3h0M110.8 164.4h0M112.5 164.6h0M114.4 164.7h0M116.2 164.5h0M120.0 164.3h0M80.1 165.9h0M84.0 166.2h0M87.3 166.0h0M98.0 166.2h0M101.6 165.8h0M103.2 166.2h0M105.1 166.0h0M106.5 165.9h0M108.2 166.1h0M111.6 166.3h0M113.6 165.9h0M77.7 167.7h0M79.6 167.8h0M84.7 167.4h0M88.2 167.8h0M100.5 167.6h0M102.1 167.5h0M103.9 167.8h0M107.5 167.5h0M109.1 167.7h0M112.9 167.7h0M114.6 167.7h0M116.4 167.4h0M82.1 168.9h0M83.9 169.2h0M85.8 169.0h0M87.5 169.2h0M89.3 169.2h0M98.1 169.3h0M99.6 168.9h0M105.0 169.2h0M108.5 169.1h0M110.1 169.1h0M113.7 168.8h0M115.3 169.1h0M77.6 170.5h0M81.0 170.5h0M83.1 170.6h0M85.0 170.3h0M86.4 170.5h0M88.4 170.5h0M90.1 170.4h0M98.7 170.6h0M104.2 170.6h0M105.6 170.6h0M107.7 170.8h0M109.2 170.8h0M110.8 170.6h0M112.6 170.6h0M116.2 170.4h0M80.6 172.1h0M82.0 172.3h0M83.8 172.1h0M85.7 172.0h0M87.5 172.2h0M89.1 172.0h0M99.5 171.9h0M103.2 172.1h0M104.9 172.2h0M106.8 172.0h0M108.3 172.0h0M110.1 172.0h0M113.4 172.0h0M115.6 172.3h0M119.0 172.0h0M81.4 173.4h0M83.2 173.4h0M86.5 173.5h0M98.7 173.6h0M100.4 173.4h0M102.4 173.4h0M104.2 173.7h0M105.5 173.7h0M110.8 173.8h0M112.8 173.8h0M114.3 173.5h0M118.1 173.5h0M78.4 175.1h0M83.8 175.0h0M85.6 175.3h0M87.2 175.2h0M89.2 175.1h0M97.9 175.0h0M99.5 175.2h0M101.2 175.0h0M103.2 174.9h0M105.0 174.9h0M106.4 174.9h0M108.2 175.3h0M110.0 175.3h0M112.0 174.9h0M113.9 175.2h0M115.2 175.3h0M81.2 176.4h0M84.9 176.6h0M88.3 176.7h0M96.8 176.4h0M98.5 176.8h0M100.6 176.4h0M102.4 176.7h0M104.0 176.4h0M105.6 176.6h0M107.7 176.5h0M109.1 176.5h0M110.9 176.6h0M113.0 176.6h0M82.0 177.9h0M83.7 178.1h0M87.3 178.1h0M89.2 178.2h0M90.7 178.2h0M99.6 178.4h0M101.2 178.3h0M102.9 178.2h0M106.6 177.9h0M108.6 178.1h0M111.7 177.9h0M113.4 178.0h0M115.3 177.9h0M117.4 178.0h0M83.2 179.5h0M84.8 179.6h0M86.4 179.7h0M91.7 179.8h0M96.8 179.6h0M98.9 179.8h0M100.3 179.4h0M102.0 179.6h0M103.9 179.4h0M105.5 179.5h0M107.4 179.5h0M109.2 179.8h0M111.2 179.7h0M114.5 179.8h0M78.5 181.1h0M81.9 181.3h0M83.6 180.9h0M85.6 181.4h0M89.0 181.1h0M90.8 180.9h0M98.0 181.3h0M99.6 181.0h0M101.3 181.4h0M104.8 181.4h0M106.6 181.1h0M112.1 181.2h0M113.8 181.1h0M115.6 180.9h0M79.6 182.6h0M81.1 182.9h0M86.5 182.5h0M89.8 182.5h0M91.9 182.9h0M97.1 182.6h0M98.9 182.7h0M102.0 182.7h0M103.8 182.6h0M105.5 182.6h0M107.5 182.8h0M109.5 182.8h0M112.8 182.7h0M116.3 182.8h0M80.6 184.1h0M81.9 184.3h0M84.1 184.4h0M85.8 184.3h0M87.2 184.2h0M91.1 184.2h0M97.6 184.1h0M99.7 184.4h0M103.1 184.0h0M104.9 184.3h0M106.8 184.1h0M108.3 184.3h0M111.9 184.3h0M113.4 184.2h0M77.8 186.0h0M79.3 185.5h0M81.3 185.6h0M83.0 185.8h0M84.9 185.5h0M86.7 185.9h0M88.4 185.8h0M91.8 185.9h0M96.8 185.6h0M98.5 185.5h0M100.3 185.8h0M107.7 185.9h0M109.5 185.5h0M110.8 185.6h0M112.7 185.8h0M116.2 185.7h0M78.8 187.3h0M80.2 187.2h0M82.2 187.4h0M83.8 187.2h0M85.8 187.3h0M87.3 187.4h0M88.9 187.2h0M91.0 187.0h0M97.7 187.2h0M101.3 187.4h0M103.1 187.4h0M105.0 187.2h0M106.5 187.2h0M108.4 187.0h0M110.4 187.2h0M111.7 187.1h0M118.8 187.4h0M75.8 188.9h0M77.9 188.9h0M81.5 188.9h0M84.9 188.7h0M90.0 188.6h0M91.6 188.8h0M96.8 188.7h0M98.7 188.9h0M102.0 188.9h0M105.6 188.6h0M110.8 188.7h0M112.9 188.7h0M116.3 189.0h0M76.9 190.5h0M78.7 190.1h0M80.5 190.1h0M82.2 190.0h0M85.6 190.3h0M89.1 190.0h0M90.8 190.0h0M97.9 190.3h0M101.4 190.4h0M108.2 190.5h0M110.1 190.4h0M111.8 190.5h0M113.7 190.4h0M115.3 190.3h0M77.6 191.9h0M81.4 191.8h0M83.1 191.7h0M84.9 191.7h0M88.1 191.6h0M91.5 191.6h0M98.9 191.5h0M100.3 191.9h0M102.3 191.6h0M105.5 191.9h0M107.3 191.8h0M109.4 191.9h0M111.1 192.0h0M112.9 191.7h0M114.3 191.9h0M74.9 193.2h0M76.8 193.4h0M78.5 193.1h0M80.5 193.3h0M82.3 193.1h0M83.9 193.3h0M87.5 193.3h0M92.4 193.2h0M96.3 193.2h0M97.9 193.5h0M99.8 193.2h0M101.4 193.5h0M102.9 193.5h0M104.9 193.4h0M106.6 193.2h0M108.2 193.4h0M110.3 193.1h0M111.7 193.5h0M74.3 195.0h0M77.6 194.9h0M79.5 194.6h0M83.0 194.7h0M85.0 194.8h0M86.5 195.0h0M88.3 195.0h0M90.2 194.8h0M91.5 195.0h0M97.0 195.0h0M98.8 194.7h0M102.2 194.9h0M103.8 194.7h0M105.9 194.6h0M109.1 194.6h0M111.1 195.0h0M112.8 194.6h0M114.4 194.7h0M116.4 194.6h0M76.8 196.5h0M78.6 196.3h0M82.2 196.5h0M85.8 196.2h0M89.1 196.5h0M90.8 196.4h0M92.7 196.4h0M97.9 196.1h0M104.9 196.3h0M106.5 196.6h0M110.3 196.4h0M111.9 196.2h0M113.4 196.4h0M115.5 196.3h0M75.9 198.0h0M77.5 197.6h0M81.2 197.8h0M84.8 197.6h0M90.2 197.9h0M91.9 197.9h0M97.2 198.1h0M98.5 197.8h0M100.4 197.6h0M102.0 197.8h0M104.1 197.8h0M106.0 198.0h0M107.4 197.8h0M109.2 197.6h0M111.1 197.9h0M114.6 198.0h0M75.0 199.2h0M77.0 199.2h0M78.8 199.3h0M80.4 199.3h0M82.0 199.1h0M83.8 199.2h0M85.6 199.6h0M89.3 199.1h0M90.6 199.1h0M92.8 199.3h0M98.1 199.4h0M99.5 199.3h0M101.5 199.2h0M103.3 199.1h0M104.7 199.4h0M106.4 199.5h0M108.3 199.5h0M112.0 199.2h0M113.4 199.4h0M118.9 199.3h0M74.1 200.7h0M76.2 200.8h0M77.7 201.1h0M79.4 200.7h0M81.2 200.7h0M84.8 200.8h0M88.1 200.8h0M90.2 200.9h0M91.8 201.0h0M97.0 201.0h0M98.7 200.8h0M100.5 201.1h0M102.2 200.9h0M103.8 200.8h0M107.3 201.0h0M110.8 200.9h0M112.8 200.6h0M114.3 200.8h0M75.2 202.2h0M78.8 202.6h0M82.3 202.6h0M84.0 202.5h0M85.5 202.2h0M87.6 202.3h0M89.2 202.4h0M90.9 202.3h0M92.8 202.5h0M96.1 202.4h0M98.1 202.5h0M99.5 202.4h0M101.6 202.2h0M103.0 202.4h0M104.7 202.6h0M108.4 202.2h0M110.0 202.6h0M111.7 202.2h0M113.9 202.5h0M74.0 203.8h0M84.7 203.9h0M86.3 203.8h0M88.1 203.7h0M89.9 204.1h0M91.9 204.0h0M96.9 203.8h0M98.8 204.1h0M102.1 203.7h0M103.9 203.7h0M105.6 203.8h0M107.5 203.8h0M111.2 203.7h0M112.9 204.0h0M114.7 204.0h0M117.8 203.9h0M73.4 205.5h0M75.0 205.3h0M76.9 205.5h0M78.6 205.4h0M80.2 205.6h0M82.1 205.3h0M83.8 205.2h0M85.8 205.2h0M87.5 205.5h0M89.0 205.3h0M92.5 205.4h0M95.9 205.5h0M97.9 205.4h0M102.9 205.4h0M104.8 205.5h0M106.7 205.5h0M108.6 205.5h0M110.2 205.3h0M111.9 205.2h0M115.4 205.4h0M76.1 207.0h0M77.9 207.1h0M79.5 207.0h0M81.5 207.1h0M84.7 207.1h0M88.2 207.1h0M90.1 207.0h0M95.5 206.9h0M97.1 207.0h0M99.0 206.8h0M100.3 206.8h0M103.9 207.1h0M105.8 207.0h0M109.2 206.8h0M110.8 206.7h0M112.7 207.1h0M116.1 206.8h0M71.6 208.6h0M73.6 208.4h0M77.1 208.4h0M78.5 208.7h0M80.5 208.6h0M82.0 208.4h0M87.6 208.5h0M88.9 208.4h0M90.9 208.4h0M96.0 208.6h0M97.8 208.3h0M99.9 208.5h0M101.5 208.5h0M103.1 208.3h0M104.7 208.4h0M106.7 208.4h0M108.3 208.4h0M110.3 208.4h0M111.7 208.6h0M113.5 208.6h0M115.6 208.7h0M116.9 208.4h0M70.9 210.2h0M72.6 209.8h0M77.9 209.9h0M81.5 210.1h0M84.5 209.9h0M86.7 210.1h0M88.2 209.9h0M89.9 210.0h0M91.6 209.9h0M97.1 210.2h0M98.9 209.8h0M100.6 210.1h0M102.2 210.1h0M103.8 209.8h0M105.5 210.2h0M109.2 209.9h0M111.0 209.8h0M116.2 209.8h0M117.9 209.9h0M75.2 211.6h0M76.7 211.4h0M78.4 211.6h0M80.3 211.2h0M82.2 211.4h0M84.0 211.7h0M85.5 211.7h0M87.4 211.6h0M89.3 211.5h0M90.7 211.6h0M92.7 211.6h0M96.0 211.4h0M99.6 211.5h0M101.3 211.3h0M103.2 211.5h0M106.8 211.7h0M108.3 211.5h0M110.3 211.5h0M112.1 211.5h0M113.6 211.5h0M115.2 211.3h0M117.0 211.3h0M70.5 213.0h0M72.5 213.2h0M74.4 213.0h0M75.9 212.9h0M77.8 213.2h0M79.5 213.1h0M81.2 212.9h0M82.9 212.8h0M84.7 213.1h0M86.5 213.2h0M88.2 213.1h0M90.0 213.2h0M91.8 213.2h0M93.3 213.1h0M95.5 212.9h0M97.1 213.2h0M98.7 212.8h0M100.3 213.2h0M102.1 213.2h0M104.1 212.9h0M105.7 213.2h0M107.7 213.2h0M109.1 213.1h0M111.0 212.9h0M113.0 213.0h0M114.4 213.1h0M116.0 212.9h0M118.0 212.8h0M119.8 212.9h0M67.9 214.7h0M71.8 214.6h0M73.5 214.4h0M75.3 214.6h0M76.8 214.4h0M78.6 214.4h0M83.7 214.6h0M85.6 214.6h0M87.4 214.4h0M89.1 214.5h0M90.7 214.7h0M92.5 214.3h0M96.4 214.4h0M98.1 214.6h0M99.6 214.3h0M101.3 214.3h0M103.1 214.4h0M104.7 214.3h0M106.4 214.5h0M108.5 214.4h0M110.3 214.7h0M112.1 214.5h0M113.6 214.5h0M115.5 214.4h0M117.2 214.5h0M118.8 214.5h0M120.7 214.3h0M70.7 216.2h0M72.5 215.9h0M74.2 216.2h0M79.3 215.8h0M81.4 216.1h0M82.8 215.9h0M84.6 216.1h0M86.3 216.1h0M88.4 216.1h0M90.1 216.1h0M91.7 216.0h0M93.7 216.0h0M95.3 215.8h0M97.0 216.2h0M98.6 216.0h0M100.5 216.2h0M102.1 215.9h0M103.8 216.0h0M105.8 216.2h0M107.5 216.0h0M109.3 215.9h0M111.0 215.9h0M112.9 216.1h0M114.4 216.1h0M116.1 216.0h0M118.1 216.2h0M119.8 216.1h0M121.4 215.9h0M68.4 217.3h0M70.0 217.5h0M71.8 217.8h0M73.5 217.5h0M77.1 217.6h0M78.6 217.6h0M80.2 217.8h0M82.2 217.3h0M84.1 217.7h0M85.6 217.6h0M87.4 217.3h0M89.4 217.6h0M90.7 217.3h0M92.6 217.5h0M96.3 217.7h0M97.8 217.5h0M99.6 217.5h0M101.6 217.7h0M103.2 217.7h0M105.1 217.8h0M106.7 217.5h0M108.4 217.7h0M110.3 217.4h0M111.8 217.4h0M113.7 217.4h0M115.4 217.6h0M118.9 217.6h0M120.6 217.8h0M122.3 217.6h0M124.1 217.6h0M67.1 219.2h0M70.6 219.2h0M72.4 219.0h0M74.1 218.9h0M75.8 218.9h0M77.7 219.3h0M79.6 218.9h0M81.2 219.2h0M83.1 219.2h0M84.9 219.0h0M86.4 219.3h0M88.1 219.0h0M90.2 218.9h0M91.5 219.0h0M93.5 219.1h0M95.2 219.0h0M97.2 219.2h0M98.6 219.2h0M100.6 219.2h0M102.4 218.9h0M104.1 219.2h0M105.7 219.2h0M107.5 219.3h0M109.5 219.3h0M112.6 219.0h0M114.7 219.1h0M116.2 219.1h0M117.8 218.9h0M119.8 219.2h0M123.3 219.2h0M124.9 219.0h0M68.2 220.6h0M70.1 220.8h0M71.7 220.7h0M73.4 220.5h0M75.4 220.4h0M77.0 220.5h0M78.5 220.6h0M80.3 220.6h0M82.2 220.7h0M83.9 220.6h0M85.5 220.5h0M87.2 220.8h0M89.2 220.7h0M90.9 220.5h0M92.9 220.8h0M94.5 220.6h0M96.2 220.5h0M97.9 220.6h0M99.8 220.8h0M101.3 220.7h0M103.1 220.5h0M104.8 220.4h0M106.5 220.4h0M108.2 220.3h0M109.9 220.8h0M111.7 220.5h0M113.4 220.6h0M115.3 220.7h0M117.0 220.5h0M118.8 220.4h0M120.8 220.5h0M122.6 220.6h0M124.1 220.5h0M125.9 220.8h0M67.2 222.1h0M68.9 222.3h0M70.7 222.1h0M72.5 222.0h0M74.1 222.2h0M76.1 222.0h0M77.6 222.1h0M79.3 221.9h0M81.4 222.2h0M83.2 222.3h0M84.6 221.9h0M86.3 222.0h0M88.5 221.9h0M90.0 222.2h0M91.8 222.1h0M93.5 222.2h0M95.4 222.0h0M97.0 221.9h0M98.7 222.2h0M100.6 222.2h0M102.4 222.2h0M104.2 222.1h0M105.6 222.3h0M107.6 222.3h0M109.3 222.1h0M111.1 222.3h0M112.5 222.1h0M114.5 222.0h0M116.4 222.1h0M117.8 222.0h0M119.9 222.1h0M121.4 222.1h0M123.3 222.3h0M125.0 222.1h0M126.9 222.0h0M128.6 222.0h0M66.6 223.4h0M68.4 223.5h0M69.7 223.4h0M71.6 223.8h0M73.1 223.5h0M75.0 223.4h0M76.8 223.6h0M78.9 223.4h0M80.6 223.5h0M82.0 223.8h0M83.9 223.4h0M85.7 223.6h0M87.3 223.4h0M89.3 223.5h0M90.7 223.7h0M92.6 223.7h0M94.2 223.7h0M95.9 223.5h0M97.9 223.6h0M99.5 223.6h0M101.5 223.8h0M102.9 223.5h0M104.7 223.4h0M106.8 223.4h0M108.6 223.4h0M110.0 223.5h0M111.9 223.7h0M113.6 223.4h0M115.6 223.8h0M116.9 223.7h0M119.0 223.5h0M120.5 223.7h0M122.2 223.6h0M124.0 223.6h0M126.0 223.5h0M127.5 223.6h0M67.4 225.0h0M68.9 225.3h0M71.0 225.1h0M72.5 224.9h0M74.4 225.3h0M76.1 225.3h0M77.8 225.0h0M79.5 225.0h0M82.9 225.3h0M84.8 225.3h0M86.4 225.2h0M88.3 225.1h0M89.8 225.0h0M92.0 225.3h0M93.5 225.3h0M95.2 225.3h0M97.1 225.2h0M98.8 225.3h0M100.5 225.3h0M102.5 225.2h0M104.0 225.2h0M105.6 225.0h0M107.7 225.0h0M109.3 225.0h0M110.9 225.3h0M112.6 225.4h0M114.3 224.9h0M116.0 224.9h0M117.9 225.2h0M119.5 224.9h0M121.7 225.1h0M123.0 225.2h0M124.8 225.1h0M126.7 225.2h0M128.5 224.9h0M66.5 226.6h0M68.2 226.5h0M69.7 226.5h0M71.5 226.8h0M73.6 226.6h0M74.9 226.7h0M76.8 226.4h0M78.8 226.8h0M80.3 226.8h0M81.9 226.8h0M83.8 226.7h0M85.8 226.5h0M87.6 226.8h0M89.1 226.9h0M92.6 226.8h0M94.4 226.5h0M95.9 226.6h0M97.9 226.7h0M99.8 226.5h0M101.3 226.6h0M103.4 226.6h0M105.0 226.5h0M106.8 226.4h0M108.6 226.7h0M110.3 226.6h0M111.8 226.8h0M113.6 226.4h0M117.0 226.8h0M119.0 226.6h0M120.7 226.7h0M122.4 226.7h0M124.3 226.4h0M125.9 226.4h0M129.4 226.5h0M67.1 228.0h0M69.2 228.4h0M70.9 228.2h0M72.7 228.0h0M74.3 228.3h0M75.8 228.2h0M77.8 228.3h0M79.6 228.4h0M81.3 228.1h0M82.9 228.0h0M84.7 228.2h0M86.7 228.2h0M88.4 227.9h0M90.2 228.0h0M91.5 228.3h0M93.5 228.4h0M95.4 228.3h0M97.0 228.2h0M99.0 227.9h0M100.6 228.0h0M102.1 227.9h0M103.9 228.3h0M106.0 228.3h0M107.6 228.2h0M109.1 228.1h0M110.9 228.4h0M112.9 227.9h0M114.7 228.4h0M116.4 228.4h0M117.8 228.2h0M121.7 228.2h0M123.1 228.2h0M124.9 228.4h0M126.6 228.2h0M128.7 228.4h0M69.9 229.9h0M71.7 229.7h0M73.4 229.4h0M75.2 229.6h0M77.0 229.6h0M78.8 229.8h0M80.4 229.6h0M81.9 229.5h0M84.0 229.8h0M85.7 229.6h0M87.3 229.6h0M89.3 229.5h0M91.1 229.6h0M92.7 229.7h0M94.2 229.8h0M95.9 229.6h0M98.0 229.7h0M99.5 229.6h0M101.4 229.8h0M102.9 229.8h0M104.7 229.8h0M106.7 229.7h0M108.2 229.5h0M110.1 229.8h0M111.9 229.6h0M113.5 229.5h0M115.1 229.9h0M117.3 229.6h0M118.8 229.9h0M120.9 229.8h0M122.2 229.9h0M124.2 229.7h0M126.1 229.9h0M72.4 231.3h0M74.5 231.1h0M76.0 231.1h0M77.6 230.9h0M79.3 231.0h0M81.1 231.0h0M83.2 231.1h0M84.8 231.4h0M86.7 231.4h0M88.4 231.1h0M89.9 231.4h0M92.0 231.1h0M93.6 231.2h0M95.1 231.4h0M97.0 231.4h0M98.7 231.0h0M100.6 231.3h0M102.4 231.1h0M103.9 231.3h0M105.8 231.3h0M107.6 231.4h0M109.4 231.3h0M111.0 231.0h0M112.5 231.4h0M114.6 231.2h0M116.4 231.1h0M117.9 231.4h0M120.0 231.2h0M121.7 231.0h0M123.1 231.0h0M74.9 232.6h0M76.9 232.7h0M78.4 232.8h0M80.2 232.6h0M82.2 232.7h0M83.9 232.7h0M85.9 232.6h0M87.1 232.5h0M89.0 232.5h0M91.1 232.7h0M92.7 232.6h0M94.5 232.7h0M95.9 232.5h0M97.6 232.7h0M99.6 232.6h0M101.6 232.8h0M103.4 232.8h0M104.7 232.5h0M106.6 232.8h0M108.2 232.6h0M110.3 232.9h0M111.8 232.9h0M113.7 232.7h0M115.4 232.6h0M117.0 232.8h0M118.6 232.7h0M78.0 234.0h0M79.4 234.1h0M81.2 234.0h0M83.1 234.1h0M84.6 234.2h0M86.6 234.1h0M88.5 234.2h0M89.8 234.3h0M91.8 234.3h0M93.3 234.1h0M95.4 234.4h0M96.8 234.2h0M98.6 234.4h0M100.4 234.3h0M102.0 234.3h0M103.8 234.0h0M105.7 234.3h0M107.6 234.2h0M111.0 234.2h0M112.6 234.3h0M114.5 234.3h0M85.9 235.6h0M87.4 235.9h0M89.0 235.6h0M90.7 235.6h0M92.6 235.9h0M96.0 235.9h0M97.9 235.9h0M99.5 235.8h0M101.6 235.9h0M103.3 235.5h0M104.9 235.7h0M106.6 235.5h0M108.1 235.8h0M110.1 235.7h0M89.8 237.0h0M91.9 237.3h0M95.2 237.5h0M96.8 237.2h0M98.8 237.3h0M100.6 237.2h0M102.4 237.4h0M103.8 237.3h0M71.3 163.4h0M72.9 163.4h0M74.5 163.4h0M76.1 163.4h0M77.7 163.4h0M79.3 163.4h0M80.9 163.4h0M82.5 163.4h0M84.1 163.4h0M85.7 163.4h0M87.3 163.4h0M88.9 163.4h0M97.8 163.4h0M99.4 163.4h0M101.0 163.4h0M102.6 163.4h0M104.2 163.4h0M105.8 163.4h0M107.4 163.4h0M109.0 163.4h0M110.6 163.4h0M112.2 163.4h0M113.8 163.4h0M115.4 163.4h0M117.0 163.4h0M118.6 163.4h0M120.2 163.4h0M65.0 163.8h0M141.3 164.5h0M127.1 175.3h0M141.3 178.7h0M136.4 213.3h0M135.2 226.0h0M120.8 181.0h0M121.4 192.0h0M119.6 204.0h0M67.9 181.6h0M69.0 182.8h0M64.4 185.6h0M74.2 179.3h0M78.2 179.3h0M66.1 195.4h0M67.9 204.1h0M63.2 209.8h0M54.0 220.8h0M61.0 223.7h0M62.1 217.9h0M80.5 171.2h0M80.5 169.5h0M118.5 170.0h0M119.0 175.0h0M118.5 186.0h0M119.5 196.0h0M124.0 213.0h0M131.0 221.0h0M132.0 229.0h0" stroke="#c6c6c8" stroke-width="2.10" stroke-linecap="round" fill="none"/>
<line x1="45.50" y1="216.50" x2="145.20" y2="216.50" stroke="#d62e58" stroke-width="1.25" stroke-dasharray="2.1 2.1"/>
<circle cx="105.20" cy="172.70" r="1.6" fill="#1c4f8c"/>
<circle cx="104.10" cy="227.40" r="1.6" fill="#ff9500"/>
<circle cx="102.40" cy="207.80" r="1.6" fill="#ff9500"/>
<circle cx="102.40" cy="209.80" r="1.6" fill="#1c4f8c"/>
<circle cx="106.40" cy="211.60" r="1.6" fill="#ff9500"/>
<text x="7.60" y="295.90" font-size="11.0" class="lt" font-weight="bold" fill="#000">E</text>
<text x="21.60" y="295.80" font-size="8.7" font-style="italic" textLength="19.50" lengthAdjust="spacingAndGlyphs">FLT3</text>
<text x="41.60" y="291.60" font-size="6.9" textLength="17.00" lengthAdjust="spacingAndGlyphs">D835</text>
<text x="58.80" y="295.80" font-size="8.7" textLength="108.20" lengthAdjust="spacingAndGlyphs">AML vs. other AML (pTyr)</text>
<line x1="45.50" y1="303.50" x2="45.50" y2="381.20" stroke="#231f20" stroke-width="1.35"/>
<line x1="44.30" y1="380.50" x2="144.50" y2="380.50" stroke="#231f20" stroke-width="1.35"/>
<line x1="41.80" y1="377.50" x2="45.00" y2="377.50" stroke="#231f20" stroke-width="1.2"/>
<text x="38.60" y="380.30" font-size="8.2" class="tk" text-anchor="end">0.0</text>
<line x1="41.80" y1="357.50" x2="45.00" y2="357.50" stroke="#231f20" stroke-width="1.2"/>
<text x="38.60" y="360.65" font-size="8.2" class="tk" text-anchor="end">0.5</text>
<line x1="41.80" y1="338.50" x2="45.00" y2="338.50" stroke="#231f20" stroke-width="1.2"/>
<text x="38.60" y="341.00" font-size="8.2" class="tk" text-anchor="end">1.0</text>
<line x1="41.80" y1="318.50" x2="45.00" y2="318.50" stroke="#231f20" stroke-width="1.2"/>
<text x="38.60" y="321.35" font-size="8.2" class="tk" text-anchor="end">1.5</text>
<line x1="60.50" y1="380.50" x2="60.50" y2="383.80" stroke="#231f20" stroke-width="1.2"/>
<text x="60.30" y="393.50" font-size="8.2" class="tk" text-anchor="middle">2</text>
<text x="58.70" y="393.50" font-size="8.2" class="tk" text-anchor="end">−</text>
<line x1="94.50" y1="380.50" x2="94.50" y2="383.80" stroke="#231f20" stroke-width="1.2"/>
<text x="94.50" y="393.50" font-size="8.2" class="tk" text-anchor="middle">0</text>
<line x1="128.50" y1="380.50" x2="128.50" y2="383.80" stroke="#231f20" stroke-width="1.2"/>
<text x="128.70" y="393.50" font-size="8.2" class="tk" text-anchor="middle">2</text>
<line x1="46.00" y1="326.30" x2="144.50" y2="326.30" stroke="#d62e58" stroke-width="1.25" stroke-dasharray="2.1 2.1"/>
<text transform="translate(20.70 366.30) rotate(-90)" font-size="8.0" class="al" textLength="15.13" lengthAdjust="spacingAndGlyphs">-log</text>
<text transform="translate(22.30 350.87) rotate(-90)" font-size="6.4" class="al" textLength="6.25" lengthAdjust="spacingAndGlyphs">10</text>
<text transform="translate(20.70 343.00) rotate(-90)" font-size="8.0" class="al" textLength="23.80" lengthAdjust="spacingAndGlyphs">p-value</text>
<text x="66.50" y="405.50" font-size="8.9" class="al" textLength="12.00" lengthAdjust="spacingAndGlyphs">Log</text>
<text x="78.80" y="407.80" font-size="6.3" class="al" textLength="3.20" lengthAdjust="spacingAndGlyphs">2</text>
<text x="83.80" y="405.50" font-size="8.9" class="al" textLength="38.60" lengthAdjust="spacingAndGlyphs">fold change</text>
<line x1="49.20" y1="410.00" x2="140.50" y2="410.00" stroke="#231f20" stroke-width="1.35"/>
<path d="M45.20 410.00 L51.40 407.50 L51.40 412.50 Z" fill="#231f20"/>
<path d="M144.50 410.00 L138.30 407.50 L138.30 412.50 Z" fill="#231f20"/>
<line x1="94.50" y1="410.00" x2="94.50" y2="412.40" stroke="#231f20" stroke-width="1"/>
<text x="57.60" y="420.20" font-size="8.4" textLength="28.00" lengthAdjust="spacingAndGlyphs">Up in wt</text>
<text x="100.90" y="420.20" font-size="8.4" textLength="33.50" lengthAdjust="spacingAndGlyphs">Up in mut</text>
<path d="M117.7 306.6h0M109.6 330.7h0M114.7 329.0h0M119.6 330.7h0M105.1 334.9h0M99.2 339.0h0M105.1 339.0h0M106.6 339.0h0M111.0 338.7h0M101.9 352.5h0M103.9 352.5h0M100.9 360.1h0M103.9 365.2h0M95.6 363.4h0M94.8 366.4h0M93.9 368.2h0M85.4 375.2h0M85.4 377.2h0M89.4 375.2h0M89.4 377.2h0M96.5 361.5h0" stroke="#c0c0c2" stroke-width="2.50" stroke-linecap="round" fill="none"/>
<line x1="46.00" y1="326.30" x2="144.50" y2="326.30" stroke="#d62e58" stroke-width="1.25" stroke-dasharray="2.1 2.1"/>
<circle cx="105.70" cy="306.60" r="1.6" fill="#ff9500"/>
<circle cx="109.60" cy="306.60" r="1.6" fill="#8c82c6"/>
<circle cx="113.30" cy="306.60" r="1.6" fill="#3cb44a"/>
<circle cx="119.00" cy="321.20" r="1.6" fill="#4f2270"/>
<circle cx="111.00" cy="324.50" r="1.6" fill="#1c4f8c"/>
<circle cx="112.70" cy="324.50" r="1.6" fill="#1e6b57"/>
<circle cx="110.20" cy="324.50" r="1.6" fill="#1c4f8c"/>
<rect x="160.80" y="303.65" width="5.20" height="5.20" fill="#3cb44a"/>
<text x="169.40" y="309.35" font-size="7.7" class="lg" textLength="23.50" lengthAdjust="spacingAndGlyphs">PTPN6</text>
<rect x="160.80" y="314.90" width="5.20" height="5.20" fill="#8c82c6"/>
<text x="169.40" y="320.60" font-size="7.7" class="lg" textLength="24.00" lengthAdjust="spacingAndGlyphs">PRKCD</text>
<rect x="160.80" y="326.00" width="5.20" height="5.20" fill="#ff9500"/>
<text x="169.40" y="331.70" font-size="7.7" class="lg" textLength="26.00" lengthAdjust="spacingAndGlyphs">ATP1A1</text>
<rect x="160.80" y="336.90" width="5.20" height="5.20" fill="#4f2270"/>
<text x="169.40" y="342.60" font-size="7.7" class="lg" textLength="17.30" lengthAdjust="spacingAndGlyphs">VAV1</text>
<rect x="160.80" y="347.90" width="5.20" height="5.20" fill="#1e6b57"/>
<text x="169.40" y="353.60" font-size="7.7" class="lg" textLength="20.00" lengthAdjust="spacingAndGlyphs">G6PD</text>
<rect x="160.80" y="358.65" width="5.20" height="5.20" fill="#1c4f8c"/>
<text x="169.40" y="364.35" font-size="7.7" class="lg" textLength="34.00" lengthAdjust="spacingAndGlyphs">HCK, FGR</text>
<text x="225.60" y="295.90" font-size="11.0" class="lt" font-weight="bold" fill="#000">F</text>
<line x1="265.50" y1="303.50" x2="265.50" y2="381.20" stroke="#231f20" stroke-width="1.35"/>
<line x1="264.60" y1="380.50" x2="426.25" y2="380.50" stroke="#231f20" stroke-width="1.35"/>
<line x1="262.10" y1="373.50" x2="265.30" y2="373.50" stroke="#231f20" stroke-width="1.2"/>
<text x="258.90" y="376.65" font-size="8.2" class="tk" text-anchor="end" textLength="10.80" lengthAdjust="spacingAndGlyphs">0.0</text>
<line x1="262.10" y1="338.50" x2="265.30" y2="338.50" stroke="#231f20" stroke-width="1.2"/>
<text x="258.90" y="341.65" font-size="8.2" class="tk" text-anchor="end" textLength="10.80" lengthAdjust="spacingAndGlyphs">0.5</text>
<line x1="262.10" y1="303.50" x2="265.30" y2="303.50" stroke="#231f20" stroke-width="1.2"/>
<text x="258.90" y="306.65" font-size="8.2" class="tk" text-anchor="end" textLength="10.80" lengthAdjust="spacingAndGlyphs">1.0</text>
<line x1="287.50" y1="303.50" x2="287.50" y2="380.50" stroke="#333" stroke-width="1.1"/>
<line x1="310.50" y1="303.50" x2="310.50" y2="380.50" stroke="#333" stroke-width="1.1"/>
<line x1="334.50" y1="303.50" x2="334.50" y2="380.50" stroke="#333" stroke-width="1.1"/>
<line x1="357.50" y1="303.50" x2="357.50" y2="380.50" stroke="#333" stroke-width="1.1"/>
<line x1="381.50" y1="303.50" x2="381.50" y2="380.50" stroke="#333" stroke-width="1.1"/>
<line x1="404.50" y1="303.50" x2="404.50" y2="380.50" stroke="#333" stroke-width="1.1"/>
<line x1="276.50" y1="380.50" x2="276.50" y2="383.80" stroke="#231f20" stroke-width="1.2"/>
<line x1="298.50" y1="380.50" x2="298.50" y2="383.80" stroke="#231f20" stroke-width="1.2"/>
<line x1="322.50" y1="380.50" x2="322.50" y2="383.80" stroke="#231f20" stroke-width="1.2"/>
<line x1="346.50" y1="380.50" x2="346.50" y2="383.80" stroke="#231f20" stroke-width="1.2"/>
<line x1="369.50" y1="380.50" x2="369.50" y2="383.80" stroke="#231f20" stroke-width="1.2"/>
<line x1="392.50" y1="380.50" x2="392.50" y2="383.80" stroke="#231f20" stroke-width="1.2"/>
<line x1="416.50" y1="380.50" x2="416.50" y2="383.80" stroke="#231f20" stroke-width="1.2"/>
<text transform="translate(241.80 379.00) rotate(-90)" font-size="9.9" class="al" textLength="77.20" lengthAdjust="spacingAndGlyphs">Normalized abundance</text>
<rect x="267.50" y="317.50" width="3.75" height="22.50" fill="#8c82c6"/>
<line x1="267.50" y1="330.50" x2="271.25" y2="330.50" stroke="#1a1a1a" stroke-width="1.8"/>
<rect x="272.00" y="355.75" width="3.50" height="4.75" fill="#29a9e1"/>
<line x1="272.00" y1="358.00" x2="275.50" y2="358.00" stroke="#1a1a1a" stroke-width="1.8"/>
<rect x="276.25" y="351.25" width="3.75" height="4.25" fill="#c8102e"/>
<line x1="276.25" y1="353.25" x2="280.00" y2="353.25" stroke="#1a1a1a" stroke-width="1.8"/>
<rect x="280.00" y="372.60" width="3.75" height="2.20" fill="#ff9500"/>
<line x1="280.00" y1="373.70" x2="283.75" y2="373.70" stroke="#1a1a1a" stroke-width="1.0"/>
<text x="281.60" y="380.10" font-size="6.6" text-anchor="middle" textLength="9.20" lengthAdjust="spacingAndGlyphs">ND</text>
<path d="M269.50 314.30 V313.10 Q269.50 312.50 270.10 312.50 H278.15 Q278.75 312.50 278.75 313.10 V314.30" stroke="#2a2a2a" stroke-width="1.1" fill="none"/>
<path d="M274.12 307.25L274.12 309.95M272.96 307.93L275.29 309.28M275.29 307.93L272.96 309.28" stroke="#231f20" stroke-width="0.75" fill="none"/>
<rect x="291.25" y="335.00" width="3.25" height="15.00" fill="#8c82c6"/>
<line x1="291.25" y1="340.50" x2="294.50" y2="340.50" stroke="#1a1a1a" stroke-width="1.8"/>
<rect x="295.50" y="342.50" width="3.50" height="16.25" fill="#29a9e1"/>
<line x1="295.50" y1="352.50" x2="299.00" y2="352.50" stroke="#1a1a1a" stroke-width="1.8"/>
<line x1="301.50" y1="339.25" x2="301.50" y2="350.75" stroke="#333" stroke-width="1.1"/>
<line x1="300.25" y1="339.25" x2="302.50" y2="339.25" stroke="#333" stroke-width="1.2"/>
<line x1="301.50" y1="367.50" x2="301.50" y2="373.00" stroke="#333" stroke-width="1.1"/>
<line x1="300.25" y1="373.00" x2="302.50" y2="373.00" stroke="#333" stroke-width="1.2"/>
<rect x="299.50" y="350.75" width="3.75" height="16.75" fill="#c8102e"/>
<line x1="299.50" y1="360.00" x2="303.25" y2="360.00" stroke="#1a1a1a" stroke-width="1.8"/>
<rect x="303.75" y="345.40" width="3.75" height="3.60" fill="#ff9500"/>
<line x1="303.75" y1="347.00" x2="307.50" y2="347.00" stroke="#1a1a1a" stroke-width="1.8"/>
<path d="M293.00 333.05 V331.85 Q293.00 331.25 293.60 331.25 H301.40 Q302.00 331.25 302.00 331.85 V333.05" stroke="#2a2a2a" stroke-width="1.1" fill="none"/>
<path d="M297.50 326.00L297.50 328.70M296.33 326.68L298.67 328.03M298.67 326.68L296.33 328.03" stroke="#231f20" stroke-width="0.75" fill="none"/>
<rect x="313.75" y="342.50" width="3.75" height="12.50" fill="#8c82c6"/>
<line x1="313.75" y1="353.75" x2="317.50" y2="353.75" stroke="#1a1a1a" stroke-width="1.8"/>
<rect x="318.25" y="357.00" width="3.75" height="5.00" fill="#29a9e1"/>
<line x1="318.25" y1="359.50" x2="322.00" y2="359.50" stroke="#1a1a1a" stroke-width="1.8"/>
<line x1="324.50" y1="350.75" x2="324.50" y2="357.50" stroke="#333" stroke-width="1.1"/>
<line x1="323.25" y1="350.75" x2="325.50" y2="350.75" stroke="#333" stroke-width="1.2"/>
<rect x="322.50" y="357.50" width="3.75" height="12.50" fill="#c8102e"/>
<line x1="322.50" y1="363.25" x2="326.25" y2="363.25" stroke="#1a1a1a" stroke-width="1.8"/>
<rect x="327.00" y="371.80" width="3.75" height="1.60" fill="#ff9500"/>
<path d="M316.00 338.05 V336.85 Q316.00 336.25 316.60 336.25 H324.40 Q325.00 336.25 325.00 336.85 V338.05" stroke="#2a2a2a" stroke-width="1.1" fill="none"/>
<path d="M320.50 331.00L320.50 333.70M319.33 331.68L321.67 333.03M321.67 331.68L319.33 333.03" stroke="#231f20" stroke-width="0.75" fill="none"/>
<line x1="339.50" y1="345.50" x2="339.50" y2="348.40" stroke="#333" stroke-width="1.1"/>
<line x1="338.75" y1="345.50" x2="341.00" y2="345.50" stroke="#333" stroke-width="1.2"/>
<rect x="338.00" y="348.40" width="3.75" height="11.60" fill="#8c82c6"/>
<line x1="338.00" y1="358.75" x2="341.75" y2="358.75" stroke="#1a1a1a" stroke-width="1.8"/>
<rect x="342.00" y="346.25" width="3.75" height="18.75" fill="#29a9e1"/>
<line x1="342.00" y1="361.25" x2="345.75" y2="361.25" stroke="#1a1a1a" stroke-width="1.8"/>
<line x1="348.50" y1="361.50" x2="348.50" y2="364.80" stroke="#333" stroke-width="1.1"/>
<line x1="347.00" y1="361.50" x2="349.25" y2="361.50" stroke="#333" stroke-width="1.2"/>
<line x1="348.50" y1="370.80" x2="348.50" y2="372.30" stroke="#333" stroke-width="1.1"/>
<line x1="347.00" y1="372.30" x2="349.25" y2="372.30" stroke="#333" stroke-width="1.2"/>
<rect x="346.25" y="364.80" width="3.75" height="6.00" fill="#c8102e"/>
<line x1="346.25" y1="367.50" x2="350.00" y2="367.50" stroke="#1a1a1a" stroke-width="1.8"/>
<rect x="350.50" y="359.50" width="3.75" height="6.75" fill="#ff9500"/>
<line x1="350.50" y1="360.50" x2="354.25" y2="360.50" stroke="#1a1a1a" stroke-width="1.8"/>
<path d="M339.50 343.05 V341.85 Q339.50 341.25 340.10 341.25 H347.40 Q348.00 341.25 348.00 341.85 V343.05" stroke="#2a2a2a" stroke-width="1.1" fill="none"/>
<path d="M343.75 336.00L343.75 338.70M342.58 336.68L344.92 338.03M344.92 336.68L342.58 338.03" stroke="#231f20" stroke-width="0.75" fill="none"/>
<rect x="361.25" y="312.00" width="3.75" height="11.75" fill="#8c82c6"/>
<line x1="361.25" y1="317.50" x2="365.00" y2="317.50" stroke="#1a1a1a" stroke-width="1.8"/>
<rect x="365.50" y="318.75" width="3.75" height="24.25" fill="#29a9e1"/>
<line x1="365.50" y1="331.25" x2="369.25" y2="331.25" stroke="#1a1a1a" stroke-width="1.8"/>
<line x1="371.50" y1="336.25" x2="371.50" y2="343.00" stroke="#333" stroke-width="1.1"/>
<line x1="370.25" y1="336.25" x2="372.50" y2="336.25" stroke="#333" stroke-width="1.2"/>
<line x1="371.50" y1="363.75" x2="371.50" y2="368.00" stroke="#333" stroke-width="1.1"/>
<line x1="370.25" y1="368.00" x2="372.50" y2="368.00" stroke="#333" stroke-width="1.2"/>
<rect x="369.50" y="343.00" width="3.75" height="20.75" fill="#c8102e"/>
<line x1="369.50" y1="349.50" x2="373.25" y2="349.50" stroke="#1a1a1a" stroke-width="1.8"/>
<rect x="373.75" y="333.75" width="3.75" height="11.25" fill="#ff9500"/>
<line x1="373.75" y1="338.75" x2="377.50" y2="338.75" stroke="#1a1a1a" stroke-width="1.8"/>
<path d="M363.00 310.55 V309.35 Q363.00 308.75 363.60 308.75 H370.90 Q371.50 308.75 371.50 309.35 V310.55" stroke="#2a2a2a" stroke-width="1.1" fill="none"/>
<path d="M367.25 303.50L367.25 306.20M366.08 304.18L368.42 305.53M368.42 304.18L366.08 305.53" stroke="#231f20" stroke-width="0.75" fill="none"/>
<line x1="386.50" y1="310.00" x2="386.50" y2="317.00" stroke="#333" stroke-width="1.1"/>
<line x1="385.05" y1="310.00" x2="387.45" y2="310.00" stroke="#333" stroke-width="1.2"/>
<line x1="386.50" y1="351.25" x2="386.50" y2="354.25" stroke="#333" stroke-width="1.1"/>
<line x1="385.05" y1="354.25" x2="387.45" y2="354.25" stroke="#333" stroke-width="1.2"/>
<rect x="384.25" y="317.00" width="4.00" height="34.25" fill="#8c82c6"/>
<line x1="384.25" y1="340.50" x2="388.25" y2="340.50" stroke="#1a1a1a" stroke-width="1.8"/>
<rect x="388.75" y="355.80" width="3.75" height="7.20" fill="#29a9e1"/>
<line x1="388.75" y1="360.00" x2="392.50" y2="360.00" stroke="#1a1a1a" stroke-width="1.8"/>
<line x1="394.50" y1="352.50" x2="394.50" y2="355.00" stroke="#333" stroke-width="1.1"/>
<line x1="393.75" y1="352.50" x2="396.00" y2="352.50" stroke="#333" stroke-width="1.2"/>
<line x1="394.50" y1="371.00" x2="394.50" y2="372.30" stroke="#333" stroke-width="1.1"/>
<line x1="393.75" y1="372.30" x2="396.00" y2="372.30" stroke="#333" stroke-width="1.2"/>
<rect x="393.00" y="355.00" width="3.75" height="16.00" fill="#c8102e"/>
<line x1="393.00" y1="362.50" x2="396.75" y2="362.50" stroke="#1a1a1a" stroke-width="1.8"/>
<rect x="397.00" y="372.60" width="3.75" height="2.20" fill="#ff9500"/>
<line x1="397.00" y1="373.70" x2="400.75" y2="373.70" stroke="#1a1a1a" stroke-width="1.0"/>
<text x="397.80" y="379.80" font-size="6.6" text-anchor="middle" textLength="9.20" lengthAdjust="spacingAndGlyphs">ND</text>
<path d="M386.00 308.05 V306.85 Q386.00 306.25 386.60 306.25 H393.90 Q394.50 306.25 394.50 306.85 V308.05" stroke="#2a2a2a" stroke-width="1.1" fill="none"/>
<path d="M390.25 301.00L390.25 303.70M389.08 301.68L391.42 303.03M391.42 301.68L389.08 303.03" stroke="#231f20" stroke-width="0.75" fill="none"/>
<rect x="408.00" y="330.00" width="3.75" height="11.25" fill="#8c82c6"/>
<line x1="408.00" y1="336.25" x2="411.75" y2="336.25" stroke="#1a1a1a" stroke-width="1.8"/>
<rect x="412.50" y="373.00" width="3.75" height="1.60" fill="#3d7fa8"/>
<text x="413.80" y="379.80" font-size="6.6" text-anchor="middle" textLength="9.20" lengthAdjust="spacingAndGlyphs">ND</text>
<line x1="418.50" y1="340.00" x2="418.50" y2="354.25" stroke="#333" stroke-width="1.1"/>
<line x1="417.00" y1="340.00" x2="419.25" y2="340.00" stroke="#333" stroke-width="1.2"/>
<line x1="418.50" y1="365.00" x2="418.50" y2="368.75" stroke="#333" stroke-width="1.1"/>
<line x1="417.00" y1="368.75" x2="419.25" y2="368.75" stroke="#333" stroke-width="1.2"/>
<rect x="416.25" y="354.25" width="3.75" height="10.75" fill="#c8102e"/>
<line x1="416.25" y1="358.00" x2="420.00" y2="358.00" stroke="#1a1a1a" stroke-width="1.8"/>
<rect x="420.50" y="354.25" width="3.75" height="10.75" fill="#ff9500"/>
<line x1="420.50" y1="360.50" x2="424.25" y2="360.50" stroke="#1a1a1a" stroke-width="1.8"/>
<path d="M409.50 327.55 V326.35 Q409.50 325.75 410.10 325.75 H417.40 Q418.00 325.75 418.00 326.35 V327.55" stroke="#2a2a2a" stroke-width="1.1" fill="none"/>
<path d="M413.75 320.50L413.75 323.20M412.58 321.18L414.92 322.53M414.92 321.18L412.58 322.53" stroke="#231f20" stroke-width="0.75" fill="none"/>
<text transform="translate(273.20 387.10) rotate(-90)" font-size="7.9" text-anchor="end" textLength="15.70" lengthAdjust="spacingAndGlyphs">HCK</text>
<text transform="translate(281.70 387.10) rotate(-90)" font-size="7.9" text-anchor="end" textLength="21.80" lengthAdjust="spacingAndGlyphs">p411y</text>
<text transform="translate(295.90 387.10) rotate(-90)" font-size="7.9" text-anchor="end" textLength="15.50" lengthAdjust="spacingAndGlyphs">FGR</text>
<text transform="translate(304.40 387.10) rotate(-90)" font-size="7.9" text-anchor="end" textLength="17.50" lengthAdjust="spacingAndGlyphs">p34y</text>
<text transform="translate(319.50 387.10) rotate(-90)" font-size="7.9" text-anchor="end" textLength="25.70" lengthAdjust="spacingAndGlyphs">PRKCD</text>
<text transform="translate(328.00 387.10) rotate(-90)" font-size="7.9" text-anchor="end" textLength="21.80" lengthAdjust="spacingAndGlyphs">p313y</text>
<text transform="translate(343.20 387.10) rotate(-90)" font-size="7.9" text-anchor="end" textLength="25.00" lengthAdjust="spacingAndGlyphs">PTPN6</text>
<text transform="translate(351.70 387.10) rotate(-90)" font-size="7.9" text-anchor="end" textLength="21.80" lengthAdjust="spacingAndGlyphs">p564y</text>
<text transform="translate(366.40 387.10) rotate(-90)" font-size="7.9" text-anchor="end" textLength="27.50" lengthAdjust="spacingAndGlyphs">ATP1A1</text>
<text transform="translate(374.90 387.10) rotate(-90)" font-size="7.9" text-anchor="end" textLength="21.80" lengthAdjust="spacingAndGlyphs">p260y</text>
<text transform="translate(389.80 387.10) rotate(-90)" font-size="7.9" text-anchor="end" textLength="19.00" lengthAdjust="spacingAndGlyphs">VAV1</text>
<text transform="translate(398.30 387.10) rotate(-90)" font-size="7.9" text-anchor="end" textLength="21.80" lengthAdjust="spacingAndGlyphs">p844y</text>
<text transform="translate(413.10 387.10) rotate(-90)" font-size="7.9" text-anchor="end" textLength="21.50" lengthAdjust="spacingAndGlyphs">G6PD</text>
<text transform="translate(421.60 387.10) rotate(-90)" font-size="7.9" text-anchor="end" textLength="21.80" lengthAdjust="spacingAndGlyphs">p401y</text>
<rect x="436.30" y="302.40" width="5.20" height="5.20" fill="#8c82c6"/>
<text x="445.00" y="307.70" font-size="7.6"><tspan font-style="italic" textLength="17.5" lengthAdjust="spacingAndGlyphs">FLT3</tspan><tspan font-size="5.2" dy="-2.8" textLength="12" lengthAdjust="spacingAndGlyphs">D835</tspan><tspan dy="2.8" textLength="33.5" lengthAdjust="spacingAndGlyphs">AML (n=6)</tspan></text>
<rect x="436.30" y="313.60" width="5.20" height="5.20" fill="#29a9e1"/>
<text x="445.00" y="318.90" font-size="7.6"><tspan font-style="italic" textLength="17.5" lengthAdjust="spacingAndGlyphs">FLT3</tspan><tspan textLength="47.5" lengthAdjust="spacingAndGlyphs">-ITD high (n=4)</tspan></text>
<rect x="436.30" y="324.50" width="5.20" height="5.20" fill="#c8102e"/>
<text x="444.90" y="330.20" font-size="7.7" class="lg" textLength="60.20" lengthAdjust="spacingAndGlyphs">Other AML (n=27)</text>
<rect x="436.30" y="335.70" width="5.20" height="5.20" fill="#ff9500"/>
<text x="444.90" y="341.40" font-size="7.7" class="lg" textLength="58.00" lengthAdjust="spacingAndGlyphs">Healthy BM (n=3)</text>
<text x="6.60" y="439.70" font-size="11.0" class="lt" font-weight="bold" fill="#000">G</text>
<text x="55.50" y="439.80" font-size="8.7" textLength="82.80" lengthAdjust="spacingAndGlyphs">AML vs. other AML</text>
<line x1="44.50" y1="443.75" x2="44.50" y2="522.40" stroke="#231f20" stroke-width="1.35"/>
<line x1="43.80" y1="521.50" x2="148.00" y2="521.50" stroke="#231f20" stroke-width="1.35"/>
<line x1="41.30" y1="518.50" x2="44.50" y2="518.50" stroke="#231f20" stroke-width="1.2"/>
<text x="38.10" y="521.15" font-size="8.2" class="tk" text-anchor="end">0</text>
<line x1="41.30" y1="489.50" x2="44.50" y2="489.50" stroke="#231f20" stroke-width="1.2"/>
<text x="38.10" y="492.65" font-size="8.2" class="tk" text-anchor="end">5</text>
<line x1="41.30" y1="461.50" x2="44.50" y2="461.50" stroke="#231f20" stroke-width="1.2"/>
<text x="38.10" y="464.15" font-size="8.2" class="tk" text-anchor="end">10</text>
<line x1="62.50" y1="521.70" x2="62.50" y2="525.00" stroke="#231f20" stroke-width="1.2"/>
<text x="62.85" y="533.90" font-size="8.2" class="tk" text-anchor="middle">−2.5</text>
<line x1="94.50" y1="521.70" x2="94.50" y2="525.00" stroke="#231f20" stroke-width="1.2"/>
<text x="94.60" y="533.90" font-size="8.2" class="tk" text-anchor="middle">0.0</text>
<line x1="126.50" y1="521.70" x2="126.50" y2="525.00" stroke="#231f20" stroke-width="1.2"/>
<text x="126.35" y="533.90" font-size="8.2" class="tk" text-anchor="middle">2.5</text>
<text transform="translate(26.00 506.50) rotate(-90)" font-size="8.0" class="al" textLength="15.00" lengthAdjust="spacingAndGlyphs">-log</text>
<text transform="translate(27.60 491.20) rotate(-90)" font-size="6.4" class="al" textLength="6.20" lengthAdjust="spacingAndGlyphs">10</text>
<text transform="translate(26.00 483.40) rotate(-90)" font-size="8.0" class="al" textLength="23.60" lengthAdjust="spacingAndGlyphs">p-value</text>
<text x="66.50" y="545.80" font-size="8.9" class="al" textLength="12.00" lengthAdjust="spacingAndGlyphs">Log</text>
<text x="78.80" y="548.10" font-size="6.3" class="al" textLength="3.20" lengthAdjust="spacingAndGlyphs">2</text>
<text x="83.80" y="545.80" font-size="8.9" class="al" textLength="38.60" lengthAdjust="spacingAndGlyphs">fold change</text>
<line x1="49.20" y1="550.10" x2="140.50" y2="550.10" stroke="#231f20" stroke-width="1.35"/>
<path d="M45.20 550.10 L51.40 547.60 L51.40 552.60 Z" fill="#231f20"/>
<path d="M144.50 550.10 L138.30 547.60 L138.30 552.60 Z" fill="#231f20"/>
<line x1="94.50" y1="550.10" x2="94.50" y2="552.50" stroke="#231f20" stroke-width="1"/>
<text x="57.60" y="559.60" font-size="8.4" textLength="28.00" lengthAdjust="spacingAndGlyphs">Up in wt</text>
<text x="100.90" y="559.60" font-size="8.4" textLength="33.50" lengthAdjust="spacingAndGlyphs">Up in mut</text>
<path d="M73.3 517.0 L74.8 518.1 L80.0 518.6 L89.9 518.4 L92.4 517.9 L92.1 510.1 L91.4 502.3 L89.4 499.7 L87.0 498.8 L84.3 499.7 L84.2 499.7 L84.1 499.7 L84.0 499.7 L83.9 499.7 L83.8 499.7 L80.1 498.9 L77.5 500.3 L74.8 502.5 L73.4 506.2 L72.7 512.0 Z" fill="#c6c6c8"/>
<path d="M97.1 518.1 L100.1 518.6 L110.9 518.5 L109.2 510.7 L105.9 509.3 L105.8 509.3 L105.7 509.3 L105.6 509.2 L105.6 509.2 L105.5 509.1 L105.5 509.0 L105.4 509.0 L105.4 508.9 L105.4 508.8 L105.3 508.7 L105.3 508.6 L105.3 508.6 L104.9 502.2 L103.8 498.6 L101.9 497.7 L99.5 498.0 L97.7 500.4 L97.1 505.1 Z" fill="#c6c6c8"/>
<path d="M78.8 490.3h0M83.8 490.3h0M74.2 492.0h0M77.7 492.2h0M86.6 491.9h0M87.8 491.9h0M76.7 493.3h0M77.8 495.2h0M79.5 494.7h0M75.4 496.6h0M85.5 496.3h0M86.9 496.7h0M88.7 496.4h0M97.4 496.5h0M75.9 497.8h0M84.6 497.9h0M99.6 498.3h0M101.9 498.2h0M103.3 497.7h0M106.4 497.8h0M73.5 499.1h0M75.1 499.2h0M79.0 499.5h0M80.2 499.3h0M81.8 499.7h0M85.5 499.2h0M87.1 499.3h0M88.7 499.1h0M97.4 499.1h0M99.4 499.7h0M100.6 499.4h0M102.7 499.5h0M104.1 499.3h0M76.3 500.7h0M77.7 500.6h0M79.4 500.7h0M81.6 500.9h0M83.3 501.2h0M84.5 500.7h0M86.1 501.0h0M88.3 500.9h0M90.0 500.6h0M91.7 501.1h0M98.2 500.7h0M99.8 501.1h0M103.3 501.2h0M104.8 500.7h0M107.0 501.1h0M108.7 501.3h0M75.3 502.1h0M77.3 502.5h0M79.0 502.3h0M80.6 502.2h0M82.0 502.2h0M83.6 502.3h0M85.8 502.3h0M87.3 502.7h0M89.2 502.4h0M90.6 502.1h0M92.1 502.0h0M97.2 502.4h0M99.1 502.3h0M100.8 502.6h0M102.5 502.2h0M104.4 502.4h0M74.5 503.9h0M76.3 503.8h0M77.8 504.2h0M79.8 504.2h0M81.3 504.2h0M82.7 503.6h0M84.4 503.7h0M86.5 504.1h0M87.8 504.0h0M89.5 504.1h0M96.9 503.8h0M98.6 504.1h0M99.9 503.9h0M101.4 503.7h0M103.0 503.9h0M104.7 503.7h0M73.9 505.5h0M76.8 505.0h0M78.5 505.1h0M80.7 505.6h0M81.9 505.6h0M83.9 505.0h0M85.6 505.3h0M87.5 505.4h0M88.6 505.6h0M90.9 505.3h0M92.3 505.6h0M97.1 505.4h0M98.8 505.1h0M100.6 505.2h0M102.7 505.2h0M104.0 505.2h0M105.7 505.0h0M72.8 506.6h0M74.8 506.5h0M76.1 506.8h0M77.8 506.8h0M79.9 506.7h0M81.4 506.9h0M82.8 506.5h0M84.3 507.0h0M86.1 506.5h0M88.3 506.9h0M89.6 506.7h0M91.2 506.8h0M96.9 507.1h0M98.1 507.1h0M99.8 506.5h0M101.6 506.8h0M103.4 506.5h0M104.8 506.7h0M114.9 506.7h0M73.7 508.3h0M75.4 508.4h0M76.9 508.2h0M80.6 508.4h0M82.3 508.6h0M84.0 508.5h0M85.5 508.3h0M87.4 508.5h0M89.2 508.4h0M90.4 507.9h0M92.2 508.0h0M97.4 508.4h0M99.2 508.3h0M101.0 508.5h0M102.5 508.4h0M104.4 508.1h0M105.7 508.4h0M72.9 510.1h0M74.4 509.7h0M76.3 509.8h0M77.6 509.5h0M79.7 509.6h0M80.9 509.4h0M83.1 509.9h0M84.5 509.8h0M86.3 509.5h0M87.8 510.1h0M89.4 509.7h0M91.8 509.7h0M96.3 510.1h0M98.3 509.5h0M100.3 509.5h0M101.7 510.0h0M103.2 510.0h0M104.7 509.4h0M106.7 509.6h0M108.3 509.6h0M72.1 511.5h0M73.9 511.4h0M75.2 511.1h0M77.3 511.3h0M78.6 511.1h0M80.1 511.5h0M82.4 511.0h0M83.8 511.0h0M85.8 511.5h0M87.3 511.5h0M88.9 511.4h0M90.8 511.2h0M92.4 511.1h0M97.7 511.0h0M99.0 511.1h0M101.1 511.1h0M102.4 511.3h0M104.0 511.0h0M106.2 511.2h0M107.9 511.6h0M109.0 511.0h0M110.9 510.9h0M112.5 511.3h0M117.7 511.2h0M119.4 510.9h0M73.1 512.4h0M74.5 512.9h0M76.0 512.5h0M77.8 513.0h0M79.8 512.4h0M81.4 513.0h0M83.0 512.3h0M84.9 512.9h0M86.7 512.5h0M87.8 512.7h0M90.1 512.8h0M91.6 512.7h0M96.2 512.9h0M98.5 512.8h0M99.7 512.5h0M101.8 512.4h0M103.4 512.8h0M104.9 512.8h0M106.6 512.7h0M110.4 512.7h0M111.7 513.0h0M114.9 512.7h0M118.5 512.8h0M121.7 512.6h0M123.9 512.5h0M73.8 514.2h0M75.6 514.0h0M76.8 514.0h0M78.6 514.5h0M80.2 514.0h0M82.2 514.5h0M83.7 514.0h0M86.9 513.9h0M89.2 514.4h0M90.9 514.5h0M92.1 514.5h0M97.1 514.3h0M99.0 514.0h0M100.5 514.0h0M102.8 513.9h0M105.8 514.4h0M107.6 513.9h0M109.2 514.5h0M110.9 514.4h0M112.6 514.4h0M115.8 513.9h0M119.7 514.4h0M121.0 514.5h0M124.8 514.0h0M72.4 515.8h0M74.5 515.9h0M76.0 515.6h0M81.1 515.6h0M83.2 515.4h0M84.8 515.9h0M86.4 515.5h0M88.0 515.8h0M89.5 515.8h0M91.1 515.3h0M93.0 516.0h0M96.9 515.5h0M98.0 515.6h0M99.9 515.5h0M101.7 515.8h0M103.6 515.8h0M105.3 515.5h0M106.7 515.8h0M108.3 515.5h0M110.4 515.7h0M111.8 516.0h0M113.4 515.9h0M118.6 515.9h0M123.6 515.4h0M125.8 515.7h0M73.9 517.1h0M75.5 517.4h0M77.1 517.2h0M78.6 516.9h0M80.2 517.2h0M81.9 516.8h0M83.9 516.9h0M85.3 517.3h0M86.9 516.8h0M88.9 517.2h0M90.4 517.2h0M92.1 517.0h0M99.1 517.0h0M101.1 517.5h0M102.3 517.3h0M103.9 517.4h0M106.1 517.0h0M107.6 516.9h0M109.3 517.2h0M110.7 517.2h0M112.7 516.9h0M114.4 517.4h0M116.1 517.3h0M119.2 517.4h0M122.6 517.4h0M124.9 517.2h0M128.2 516.9h0M74.7 518.8h0M76.0 518.5h0M77.8 518.3h0M79.7 518.9h0M81.3 518.8h0M83.2 518.3h0M84.7 518.7h0M86.3 518.6h0M88.2 518.5h0M89.4 518.7h0M91.3 518.8h0M93.1 518.4h0M96.3 518.3h0M98.0 518.5h0M99.6 518.7h0M101.8 518.8h0M103.0 518.6h0M105.4 518.3h0M107.1 518.7h0M108.2 518.9h0M110.5 518.9h0M112.1 518.9h0M113.4 518.8h0M115.5 518.4h0M118.7 518.9h0M120.2 518.6h0M121.7 518.4h0M124.1 518.7h0M127.3 518.3h0M128.9 518.5h0M86.8 446.9h0M78.0 461.2h0M76.5 463.9h0M85.8 464.5h0M77.2 470.4h0M78.4 469.6h0M85.8 469.2h0M83.2 472.2h0M72.9 475.8h0M81.0 475.4h0M84.6 480.6h0M82.8 482.4h0M71.7 487.7h0M88.0 486.8h0M70.0 491.9h0M89.4 490.7h0M69.5 498.1h0M70.3 503.8h0M69.7 507.4h0M68.5 514.6h0M133.6 446.9h0M122.8 467.2h0M107.3 472.2h0M112.7 472.2h0M106.7 475.8h0M108.5 480.0h0M120.8 480.6h0M101.9 484.2h0M103.1 486.8h0M99.5 489.9h0M108.5 489.9h0M112.1 491.1h0M101.3 492.5h0M109.7 494.3h0M108.5 497.3h0M129.4 503.8h0M107.9 503.2h0M112.1 508.0h0M115.0 508.0h0M123.4 508.0h0M131.2 511.0h0M143.7 514.6h0M125.8 515.2h0M74.0 489.0h0M76.0 485.0h0M79.0 487.0h0M83.0 490.0h0M86.0 492.0h0M90.0 494.0h0M78.0 493.0h0M73.0 497.0h0M98.0 493.0h0M100.0 495.0h0M104.0 494.0h0M107.0 500.0h0M110.0 505.0h0M117.0 506.0h0M119.0 508.0h0M127.0 511.0h0M133.0 515.0h0M137.0 517.0h0" stroke="#c6c6c8" stroke-width="2.00" stroke-linecap="round" fill="none"/>
<line x1="45.50" y1="511.60" x2="145.00" y2="511.60" stroke="#d62e58" stroke-width="1.25" stroke-dasharray="2.1 2.1"/>
<circle cx="115.70" cy="485.70" r="1.6" fill="#3cb44a"/>
<circle cx="119.80" cy="506.20" r="1.6" fill="#1c4f8c"/>
<circle cx="105.30" cy="517.00" r="1.6" fill="#1c4f8c"/>
<rect x="160.80" y="471.65" width="5.20" height="5.20" fill="#1c4f8c"/>
<text x="169.40" y="477.35" font-size="7.7" class="lg" textLength="21.50" lengthAdjust="spacingAndGlyphs">STK26</text>
<rect x="160.80" y="483.15" width="5.20" height="5.20" fill="#3cb44a"/>
<text x="169.40" y="488.85" font-size="7.7" class="lg" textLength="14.50" lengthAdjust="spacingAndGlyphs">JUN</text>
<text x="225.40" y="439.70" font-size="11.0" class="lt" font-weight="bold" fill="#000">H</text>
<line x1="265.50" y1="444.50" x2="265.50" y2="522.90" stroke="#231f20" stroke-width="1.35"/>
<line x1="264.60" y1="522.50" x2="427.00" y2="522.50" stroke="#231f20" stroke-width="1.35"/>
<line x1="262.10" y1="514.50" x2="265.30" y2="514.50" stroke="#231f20" stroke-width="1.2"/>
<text x="258.90" y="517.40" font-size="8.2" class="tk" text-anchor="end" textLength="10.80" lengthAdjust="spacingAndGlyphs">0.0</text>
<line x1="262.10" y1="479.50" x2="265.30" y2="479.50" stroke="#231f20" stroke-width="1.2"/>
<text x="258.90" y="482.40" font-size="8.2" class="tk" text-anchor="end" textLength="10.80" lengthAdjust="spacingAndGlyphs">0.5</text>
<line x1="262.10" y1="444.50" x2="265.30" y2="444.50" stroke="#231f20" stroke-width="1.2"/>
<text x="258.90" y="447.40" font-size="8.2" class="tk" text-anchor="end" textLength="10.80" lengthAdjust="spacingAndGlyphs">1.0</text>
<line x1="305.50" y1="444.50" x2="305.50" y2="522.20" stroke="#333" stroke-width="1.1"/>
<line x1="346.50" y1="444.50" x2="346.50" y2="522.20" stroke="#333" stroke-width="1.1"/>
<line x1="387.50" y1="444.50" x2="387.50" y2="522.20" stroke="#333" stroke-width="1.1"/>
<line x1="285.50" y1="522.20" x2="285.50" y2="525.50" stroke="#231f20" stroke-width="1.2"/>
<line x1="326.50" y1="522.20" x2="326.50" y2="525.50" stroke="#231f20" stroke-width="1.2"/>
<line x1="367.50" y1="522.20" x2="367.50" y2="525.50" stroke="#231f20" stroke-width="1.2"/>
<line x1="407.50" y1="522.20" x2="407.50" y2="525.50" stroke="#231f20" stroke-width="1.2"/>
<text transform="translate(242.10 519.50) rotate(-90)" font-size="9.9" class="al" textLength="76.70" lengthAdjust="spacingAndGlyphs">Normalized abundance</text>
<rect x="269.50" y="458.75" width="9.25" height="13.25" fill="#29a9e1"/>
<line x1="269.50" y1="466.25" x2="278.75" y2="466.25" stroke="#1a1a1a" stroke-width="1.8"/>
<line x1="285.50" y1="459.50" x2="285.50" y2="488.25" stroke="#333" stroke-width="1.1"/>
<line x1="282.50" y1="459.50" x2="287.50" y2="459.50" stroke="#333" stroke-width="1.2"/>
<line x1="285.50" y1="510.50" x2="285.50" y2="513.75" stroke="#333" stroke-width="1.1"/>
<line x1="282.50" y1="513.75" x2="287.50" y2="513.75" stroke="#333" stroke-width="1.2"/>
<rect x="280.00" y="488.25" width="10.00" height="22.25" fill="#c8102e"/>
<line x1="280.00" y1="505.50" x2="290.00" y2="505.50" stroke="#1a1a1a" stroke-width="1.8"/>
<rect x="292.00" y="514.00" width="9.25" height="2.00" fill="#ff9500"/>
<line x1="292.00" y1="515.00" x2="301.25" y2="515.00" stroke="#1a1a1a" stroke-width="1.8"/>
<text x="296.80" y="511.05" font-size="6.6" text-anchor="middle" textLength="9.20" lengthAdjust="spacingAndGlyphs">ND</text>
<path d="M273.75 456.30 V455.10 Q273.75 454.50 274.35 454.50 H284.90 Q285.50 454.50 285.50 455.10 V456.30" stroke="#2a2a2a" stroke-width="1.1" fill="none"/>
<path d="M279.62 449.25L279.62 451.95M278.46 449.93L280.79 451.28M280.79 449.93L278.46 451.28" stroke="#231f20" stroke-width="0.75" fill="none"/>
<rect x="310.00" y="478.75" width="10.00" height="2.50" fill="#29a9e1"/>
<line x1="310.00" y1="480.00" x2="320.00" y2="480.00" stroke="#1a1a1a" stroke-width="1.8"/>
<line x1="326.50" y1="483.25" x2="326.50" y2="494.25" stroke="#333" stroke-width="1.1"/>
<line x1="323.50" y1="483.25" x2="328.50" y2="483.25" stroke="#333" stroke-width="1.2"/>
<line x1="326.50" y1="508.00" x2="326.50" y2="510.50" stroke="#333" stroke-width="1.1"/>
<line x1="323.50" y1="510.50" x2="328.50" y2="510.50" stroke="#333" stroke-width="1.2"/>
<rect x="321.25" y="494.25" width="9.50" height="13.75" fill="#c8102e"/>
<line x1="321.25" y1="502.00" x2="330.75" y2="502.00" stroke="#1a1a1a" stroke-width="1.8"/>
<rect x="333.00" y="514.00" width="9.50" height="2.00" fill="#ff9500"/>
<line x1="333.00" y1="515.00" x2="342.50" y2="515.00" stroke="#1a1a1a" stroke-width="1.8"/>
<text x="337.80" y="512.80" font-size="6.6" text-anchor="middle" textLength="9.20" lengthAdjust="spacingAndGlyphs">ND</text>
<path d="M314.50 476.30 V475.10 Q314.50 474.50 315.10 474.50 H325.65 Q326.25 474.50 326.25 475.10 V476.30" stroke="#2a2a2a" stroke-width="1.1" fill="none"/>
<path d="M320.38 469.25L320.38 471.95M319.21 469.93L321.54 471.28M321.54 469.93L319.21 471.28" stroke="#231f20" stroke-width="0.75" fill="none"/>
<rect x="350.75" y="479.25" width="9.75" height="6.25" fill="#29a9e1"/>
<line x1="350.75" y1="485.00" x2="360.50" y2="485.00" stroke="#1a1a1a" stroke-width="1.8"/>
<line x1="366.50" y1="466.25" x2="366.50" y2="477.00" stroke="#333" stroke-width="1.1"/>
<line x1="364.38" y1="466.25" x2="369.38" y2="466.25" stroke="#333" stroke-width="1.2"/>
<line x1="366.50" y1="498.00" x2="366.50" y2="504.25" stroke="#333" stroke-width="1.1"/>
<line x1="364.38" y1="504.25" x2="369.38" y2="504.25" stroke="#333" stroke-width="1.2"/>
<rect x="362.00" y="477.00" width="9.75" height="21.00" fill="#c8102e"/>
<line x1="362.00" y1="488.00" x2="371.75" y2="488.00" stroke="#1a1a1a" stroke-width="1.8"/>
<rect x="373.00" y="502.00" width="9.50" height="2.50" fill="#ff9500"/>
<line x1="373.00" y1="503.00" x2="382.50" y2="503.00" stroke="#1a1a1a" stroke-width="1.8"/>
<path d="M355.50 464.80 V463.60 Q355.50 463.00 356.10 463.00 H366.90 Q367.50 463.00 367.50 463.60 V464.80" stroke="#2a2a2a" stroke-width="1.1" fill="none"/>
<text x="361.50" y="460.40" font-size="6.8" text-anchor="middle" textLength="9.40" lengthAdjust="spacingAndGlyphs">NS</text>
<rect x="392.00" y="505.50" width="9.75" height="3.25" fill="#29a9e1"/>
<line x1="392.00" y1="507.50" x2="401.75" y2="507.50" stroke="#1a1a1a" stroke-width="1.8"/>
<line x1="407.50" y1="499.25" x2="407.50" y2="506.25" stroke="#333" stroke-width="1.1"/>
<line x1="405.25" y1="499.25" x2="410.25" y2="499.25" stroke="#333" stroke-width="1.2"/>
<rect x="403.00" y="506.25" width="9.50" height="8.25" fill="#c8102e"/>
<line x1="403.00" y1="513.00" x2="412.50" y2="513.00" stroke="#1a1a1a" stroke-width="1.8"/>
<rect x="414.25" y="451.75" width="9.50" height="22.50" fill="#ff9500"/>
<line x1="414.25" y1="459.25" x2="423.75" y2="459.25" stroke="#1a1a1a" stroke-width="1.8"/>
<path d="M396.25 449.80 V448.60 Q396.25 448.00 396.85 448.00 H407.40 Q408.00 448.00 408.00 448.60 V449.80" stroke="#2a2a2a" stroke-width="1.1" fill="none"/>
<text x="402.12" y="445.40" font-size="6.8" text-anchor="middle" textLength="9.40" lengthAdjust="spacingAndGlyphs">NS</text>
<text transform="translate(282.25 528.10) rotate(-90)" font-size="7.9" text-anchor="end" textLength="22.60" lengthAdjust="spacingAndGlyphs">STK26</text>
<text transform="translate(290.75 528.10) rotate(-90)" font-size="7.9" text-anchor="end" textLength="21.00" lengthAdjust="spacingAndGlyphs">p172t</text>
<text transform="translate(323.10 528.10) rotate(-90)" font-size="7.9" text-anchor="end" textLength="15.40" lengthAdjust="spacingAndGlyphs">JUN</text>
<text transform="translate(331.60 528.10) rotate(-90)" font-size="7.9" text-anchor="end" textLength="17.00" lengthAdjust="spacingAndGlyphs">p63s</text>
<text transform="translate(364.10 528.10) rotate(-90)" font-size="7.9" text-anchor="end" textLength="22.60" lengthAdjust="spacingAndGlyphs">STK26</text>
<text transform="translate(372.60 528.10) rotate(-90)" font-size="7.9" text-anchor="end" textLength="25.00" lengthAdjust="spacingAndGlyphs">protein</text>
<text transform="translate(403.90 528.10) rotate(-90)" font-size="7.9" text-anchor="end" textLength="15.40" lengthAdjust="spacingAndGlyphs">JUN</text>
<text transform="translate(412.40 528.10) rotate(-90)" font-size="7.9" text-anchor="end" textLength="16.00" lengthAdjust="spacingAndGlyphs">RNA</text>
<rect x="436.30" y="445.30" width="5.20" height="5.20" fill="#29a9e1"/>
<text x="444.90" y="451.00" font-size="7.7" class="lg" textLength="32.30" lengthAdjust="spacingAndGlyphs">APL (n=3)</text>
<rect x="436.30" y="456.40" width="5.20" height="5.20" fill="#c8102e"/>
<text x="444.90" y="462.10" font-size="7.7" class="lg" textLength="60.20" lengthAdjust="spacingAndGlyphs">Other AML (n=41)</text>
<rect x="436.30" y="467.80" width="5.20" height="5.20" fill="#ff9500"/>
<text x="444.90" y="473.50" font-size="7.7" class="lg" textLength="58.00" lengthAdjust="spacingAndGlyphs">Healthy BM (n=3)</text>
<text x="7.00" y="581.50" font-size="11.0" class="lt" font-weight="bold" fill="#000">I</text>
<text x="50.00" y="581.30" font-size="8.7" font-style="italic" textLength="20.50" lengthAdjust="spacingAndGlyphs">TP53</text>
<text x="72.60" y="581.30" font-size="8.7" textLength="66.90" lengthAdjust="spacingAndGlyphs">mut vs. wt AML</text>
<line x1="45.50" y1="586.00" x2="45.50" y2="663.70" stroke="#231f20" stroke-width="1.35"/>
<line x1="44.30" y1="663.50" x2="144.50" y2="663.50" stroke="#231f20" stroke-width="1.35"/>
<line x1="41.80" y1="660.50" x2="45.00" y2="660.50" stroke="#231f20" stroke-width="1.2"/>
<text x="38.60" y="663.40" font-size="8.2" class="tk" text-anchor="end">0.0</text>
<line x1="41.80" y1="637.50" x2="45.00" y2="637.50" stroke="#231f20" stroke-width="1.2"/>
<text x="38.60" y="640.60" font-size="8.2" class="tk" text-anchor="end">2.5</text>
<line x1="41.80" y1="614.50" x2="45.00" y2="614.50" stroke="#231f20" stroke-width="1.2"/>
<text x="38.60" y="617.80" font-size="8.2" class="tk" text-anchor="end">5.0</text>
<line x1="41.80" y1="592.50" x2="45.00" y2="592.50" stroke="#231f20" stroke-width="1.2"/>
<text x="38.60" y="595.00" font-size="8.2" class="tk" text-anchor="end">7.5</text>
<line x1="44.50" y1="663.00" x2="44.50" y2="666.30" stroke="#231f20" stroke-width="1.2"/>
<text x="44.40" y="675.50" font-size="8.2" class="tk" text-anchor="middle">2</text>
<text x="42.80" y="675.50" font-size="8.2" class="tk" text-anchor="end">−</text>
<line x1="58.50" y1="663.00" x2="58.50" y2="666.30" stroke="#231f20" stroke-width="1.2"/>
<text x="58.70" y="675.50" font-size="8.2" class="tk" text-anchor="middle">1</text>
<text x="57.10" y="675.50" font-size="8.2" class="tk" text-anchor="end">−</text>
<line x1="73.50" y1="663.00" x2="73.50" y2="666.30" stroke="#231f20" stroke-width="1.2"/>
<text x="73.00" y="675.50" font-size="8.2" class="tk" text-anchor="middle">0</text>
<line x1="87.50" y1="663.00" x2="87.50" y2="666.30" stroke="#231f20" stroke-width="1.2"/>
<text x="87.30" y="675.50" font-size="8.2" class="tk" text-anchor="middle">1</text>
<line x1="101.50" y1="663.00" x2="101.50" y2="666.30" stroke="#231f20" stroke-width="1.2"/>
<text x="101.60" y="675.50" font-size="8.2" class="tk" text-anchor="middle">2</text>
<line x1="115.50" y1="663.00" x2="115.50" y2="666.30" stroke="#231f20" stroke-width="1.2"/>
<text x="115.90" y="675.50" font-size="8.2" class="tk" text-anchor="middle">3</text>
<line x1="130.50" y1="663.00" x2="130.50" y2="666.30" stroke="#231f20" stroke-width="1.2"/>
<text x="130.20" y="675.50" font-size="8.2" class="tk" text-anchor="middle">4</text>
<text transform="translate(20.10 649.00) rotate(-90)" font-size="8.0" class="al" textLength="15.32" lengthAdjust="spacingAndGlyphs">-log</text>
<text transform="translate(21.70 633.37) rotate(-90)" font-size="6.4" class="al" textLength="6.33" lengthAdjust="spacingAndGlyphs">10</text>
<text transform="translate(20.10 625.41) rotate(-90)" font-size="8.0" class="al" textLength="24.11" lengthAdjust="spacingAndGlyphs">p-value</text>
<text x="66.50" y="690.00" font-size="8.9" class="al" textLength="12.00" lengthAdjust="spacingAndGlyphs">Log</text>
<text x="78.80" y="692.30" font-size="6.3" class="al" textLength="3.20" lengthAdjust="spacingAndGlyphs">2</text>
<text x="83.80" y="690.00" font-size="8.9" class="al" textLength="38.60" lengthAdjust="spacingAndGlyphs">fold change</text>
<line x1="49.20" y1="695.00" x2="140.50" y2="695.00" stroke="#231f20" stroke-width="1.35"/>
<path d="M45.20 695.00 L51.40 692.50 L51.40 697.50 Z" fill="#231f20"/>
<path d="M144.50 695.00 L138.30 692.50 L138.30 697.50 Z" fill="#231f20"/>
<line x1="73.50" y1="695.00" x2="73.50" y2="697.40" stroke="#231f20" stroke-width="1"/>
<text x="79.50" y="705.00" font-size="8.4" textLength="33.00" lengthAdjust="spacingAndGlyphs">Up in mut</text>
<path d="M55.5 653.7 L60.3 658.1 L72.2 658.1 L71.0 657.2 L70.9 657.2 L70.8 657.1 L70.8 657.0 L70.7 657.0 L70.7 656.9 L66.7 648.4 L66.7 648.3 L66.6 648.2 L65.2 642.5 L61.1 638.9 L58.7 638.5 L57.4 645.2 L57.4 645.2 Z" fill="#c6c6c8"/>
<path d="M74.9 658.1 L76.7 658.1 L75.6 657.6 Z" fill="#c6c6c8"/>
<path d="M76.7 655.6 L80.1 657.6 L98.4 653.7 L103.1 645.7 L103.6 639.9 L98.8 636.4 L92.3 637.4 L84.6 641.7 L81.3 646.5 Z" fill="#c6c6c8"/>
<path d="M94.0 634.5h0M95.6 634.2h0M97.2 634.2h0M98.5 634.0h0M58.2 635.7h0M91.9 635.9h0M93.3 635.3h0M94.8 635.2h0M96.2 635.2h0M98.0 635.8h0M99.7 635.5h0M101.2 635.4h0M60.5 636.8h0M87.5 636.6h0M89.1 637.2h0M91.1 637.2h0M92.2 637.2h0M94.3 636.9h0M95.7 637.1h0M96.9 636.8h0M100.1 636.8h0M101.7 637.1h0M56.4 638.3h0M58.2 638.1h0M59.3 638.3h0M61.0 638.6h0M62.7 638.6h0M85.1 638.6h0M86.5 638.7h0M88.2 638.5h0M89.9 638.0h0M91.7 638.1h0M93.1 638.3h0M96.5 638.6h0M97.8 638.6h0M99.4 638.1h0M101.5 638.1h0M104.5 638.3h0M56.9 640.0h0M58.9 639.5h0M60.5 639.6h0M62.2 639.4h0M63.6 639.9h0M84.2 640.0h0M85.7 639.5h0M87.3 639.5h0M89.3 639.4h0M91.1 640.0h0M92.5 639.8h0M93.7 639.4h0M97.5 639.4h0M98.8 639.9h0M100.7 639.4h0M102.2 640.0h0M103.7 639.9h0M56.5 641.4h0M57.9 641.3h0M59.7 641.2h0M61.3 641.2h0M62.9 641.4h0M64.6 641.0h0M66.1 641.0h0M83.3 641.3h0M85.3 641.1h0M86.9 641.1h0M88.7 640.9h0M89.9 641.2h0M91.4 641.4h0M93.2 641.4h0M94.9 640.9h0M96.6 641.4h0M97.9 641.1h0M99.3 641.1h0M101.4 641.2h0M104.2 641.1h0M105.8 641.0h0M57.2 642.3h0M59.1 642.4h0M60.1 642.7h0M62.1 642.5h0M63.8 642.1h0M65.2 642.1h0M66.6 642.2h0M81.3 642.4h0M82.9 642.7h0M85.8 642.5h0M87.3 642.5h0M89.0 642.3h0M90.9 642.5h0M92.6 642.4h0M94.3 642.2h0M96.9 642.4h0M99.1 642.4h0M100.7 642.7h0M103.7 642.3h0M105.4 642.6h0M56.2 644.1h0M61.4 643.7h0M64.3 643.6h0M66.0 644.0h0M67.3 644.1h0M80.6 643.6h0M82.2 643.6h0M83.6 644.0h0M85.3 644.2h0M87.1 643.6h0M88.4 643.7h0M90.1 643.9h0M91.6 643.7h0M93.4 644.1h0M95.0 644.2h0M96.5 643.6h0M98.0 643.9h0M99.9 643.9h0M101.4 643.9h0M102.9 643.6h0M104.3 644.2h0M55.6 645.0h0M57.4 645.5h0M58.7 645.0h0M60.7 645.0h0M61.7 645.0h0M63.7 645.1h0M65.3 645.0h0M66.5 645.2h0M81.0 645.3h0M82.7 645.2h0M84.2 645.0h0M86.1 645.3h0M87.7 645.5h0M89.4 645.5h0M92.3 645.5h0M94.3 645.5h0M95.4 645.4h0M96.9 645.5h0M99.0 645.0h0M100.5 644.9h0M102.1 645.5h0M105.2 645.4h0M56.5 646.4h0M57.7 646.3h0M59.6 646.7h0M61.0 646.4h0M63.1 646.9h0M64.1 646.9h0M66.2 646.5h0M67.6 646.6h0M80.1 646.8h0M81.8 646.6h0M83.5 646.4h0M85.2 646.3h0M87.0 646.8h0M88.5 646.6h0M90.0 647.0h0M91.4 646.9h0M93.4 646.8h0M95.1 646.9h0M96.6 646.8h0M98.2 646.3h0M99.6 646.3h0M101.3 646.7h0M103.1 646.7h0M104.5 646.7h0M55.5 648.4h0M57.3 648.2h0M60.5 648.2h0M61.9 647.7h0M63.5 647.7h0M65.5 648.0h0M67.1 648.1h0M81.4 647.7h0M83.0 647.7h0M86.0 647.8h0M87.7 647.7h0M90.8 648.1h0M92.3 648.1h0M93.8 648.2h0M95.3 647.8h0M97.0 648.2h0M99.1 648.2h0M100.7 648.3h0M102.3 648.0h0M103.9 647.8h0M55.1 649.6h0M56.7 649.6h0M57.7 649.5h0M59.4 649.1h0M60.9 649.4h0M62.8 649.2h0M64.3 649.6h0M66.3 649.7h0M67.4 649.1h0M79.0 649.5h0M80.2 649.5h0M82.1 649.5h0M83.4 649.2h0M88.1 649.1h0M89.9 649.5h0M91.6 649.1h0M93.3 649.4h0M94.7 649.4h0M96.3 649.6h0M97.7 649.1h0M99.7 649.6h0M101.1 649.2h0M102.7 649.5h0M55.6 651.0h0M58.7 650.5h0M60.1 650.5h0M62.0 650.9h0M63.8 650.5h0M65.3 650.5h0M67.0 650.9h0M68.2 650.7h0M77.9 650.5h0M79.6 651.1h0M84.6 650.6h0M85.9 651.1h0M87.4 650.7h0M89.1 650.7h0M90.6 650.8h0M92.4 651.0h0M93.8 651.0h0M95.4 650.4h0M97.2 650.8h0M100.6 650.5h0M102.2 650.5h0M55.0 652.4h0M56.5 651.9h0M58.1 652.0h0M59.8 652.2h0M61.1 652.1h0M64.4 652.2h0M66.1 652.5h0M67.8 652.3h0M69.4 652.4h0M77.5 652.3h0M78.9 652.4h0M80.3 651.9h0M82.3 652.1h0M83.4 652.1h0M85.5 651.9h0M86.5 652.3h0M88.2 651.9h0M90.1 652.5h0M91.3 651.9h0M93.0 652.3h0M94.6 651.9h0M96.2 652.3h0M98.0 652.4h0M99.4 652.4h0M54.0 653.9h0M55.4 653.2h0M58.7 653.6h0M60.2 653.9h0M61.8 653.2h0M63.5 653.8h0M65.3 653.3h0M66.7 653.4h0M68.4 653.7h0M76.4 653.3h0M77.7 653.8h0M79.8 653.3h0M81.4 653.3h0M82.8 653.9h0M84.7 653.4h0M85.9 653.8h0M87.8 653.4h0M89.2 653.3h0M90.7 653.4h0M92.3 653.5h0M93.9 653.7h0M95.5 653.5h0M98.9 653.2h0M100.5 653.4h0M53.2 654.6h0M56.2 655.0h0M57.9 655.0h0M59.5 654.9h0M61.0 654.7h0M62.7 655.3h0M64.6 654.8h0M65.7 654.7h0M67.7 655.1h0M69.1 655.2h0M70.5 654.7h0M75.3 654.9h0M77.5 654.9h0M78.9 655.1h0M80.3 654.8h0M81.7 654.9h0M83.9 655.1h0M85.3 654.6h0M86.7 655.0h0M88.3 654.9h0M90.2 655.0h0M91.8 655.2h0M93.1 654.9h0M94.9 655.3h0M96.6 655.2h0M98.3 655.0h0M99.3 654.8h0M55.7 656.2h0M58.8 656.1h0M62.3 656.4h0M63.6 656.2h0M65.5 656.5h0M66.5 656.6h0M68.7 656.1h0M70.2 656.1h0M71.3 656.0h0M75.1 656.6h0M76.3 656.4h0M77.9 656.4h0M79.3 656.1h0M81.0 656.2h0M82.6 656.3h0M84.4 656.2h0M85.7 656.4h0M87.9 656.4h0M89.1 656.4h0M91.0 656.5h0M92.7 656.6h0M93.9 656.3h0M95.9 656.3h0M97.2 656.6h0M98.5 656.5h0M61.3 657.9h0M62.9 657.4h0M64.4 657.7h0M65.7 657.8h0M67.4 657.6h0M69.0 657.4h0M71.1 657.8h0M72.3 657.9h0M74.2 657.8h0M75.3 657.9h0M77.2 658.0h0M78.6 657.6h0M80.1 658.0h0M81.9 657.6h0M83.3 657.4h0M85.1 657.7h0M63.4 659.0h0M65.5 658.9h0M66.7 659.1h0M68.7 659.4h0M70.1 658.9h0M71.3 658.8h0M73.1 659.4h0M74.9 658.8h0M76.7 659.1h0M77.8 659.0h0M79.4 658.9h0M81.3 659.3h0M82.9 659.4h0M69.0 660.3h0M70.9 660.3h0M72.1 660.8h0M74.0 660.5h0M75.7 660.3h0M77.4 660.2h0M59.2 626.9h0M59.9 630.6h0M59.9 632.2h0M83.0 633.8h0M84.2 633.1h0M90.5 630.6h0M91.8 629.4h0M93.6 626.2h0M94.9 631.9h0M98.0 628.8h0M101.1 629.4h0M103.0 632.5h0M104.9 630.6h0M105.5 635.0h0M108.0 638.8h0M109.2 641.9h0M106.8 624.4h0M108.6 625.6h0M106.8 618.1h0M110.5 618.1h0M110.5 635.6h0M79.9 641.2h0M81.8 641.2h0M109.9 645.6h0M111.8 648.8h0M113.3 620.8h0M119.0 624.6h0M114.2 627.7h0M119.6 627.7h0M135.4 624.8h0M140.6 618.5h0M116.2 631.0h0M118.5 631.5h0M111.9 635.8h0M121.5 636.2h0M121.9 640.0h0M112.3 642.5h0M116.2 646.3h0M122.0 640.0h0M135.8 624.5h0M108.0 652.0h0M104.0 655.5h0" stroke="#c6c6c8" stroke-width="2.00" stroke-linecap="round" fill="none"/>
<path d="M58 658.2 L73.6 659.2 L90 658.2 L90 660.3 L73.6 661 L58 660.3 Z" fill="#c6c6c8"/>
<line x1="46.00" y1="648.50" x2="145.00" y2="648.50" stroke="#d62e58" stroke-width="1.25" stroke-dasharray="2.1 2.1"/>
<circle cx="114.60" cy="589.60" r="1.6" fill="#1c4f8c"/>
<circle cx="98.30" cy="643.50" r="1.6" fill="#3cb44a"/>
<circle cx="83.10" cy="655.60" r="1.6" fill="#3cb44a"/>
<circle cx="88.70" cy="653.50" r="1.6" fill="#3cb44a"/>
<circle cx="91.70" cy="653.50" r="1.6" fill="#3cb44a"/>
<rect x="160.80" y="604.15" width="5.20" height="5.20" fill="#1c4f8c"/>
<text x="169.40" y="609.85" font-size="7.7" class="lg" textLength="17.40" lengthAdjust="spacingAndGlyphs">TP53</text>
<rect x="160.80" y="615.40" width="5.20" height="5.20" fill="#3cb44a"/>
<text x="169.40" y="621.10" font-size="7.7" class="lg" textLength="13.80" lengthAdjust="spacingAndGlyphs">FYN</text>
<text x="224.60" y="581.50" font-size="11.0" class="lt" font-weight="bold" fill="#000">J</text>
<line x1="265.50" y1="586.00" x2="265.50" y2="664.45" stroke="#231f20" stroke-width="1.35"/>
<line x1="264.60" y1="663.50" x2="427.00" y2="663.50" stroke="#231f20" stroke-width="1.35"/>
<line x1="262.10" y1="660.50" x2="265.30" y2="660.50" stroke="#231f20" stroke-width="1.2"/>
<text x="258.90" y="663.40" font-size="8.2" class="tk" text-anchor="end" textLength="10.80" lengthAdjust="spacingAndGlyphs">0.0</text>
<line x1="262.10" y1="623.50" x2="265.30" y2="623.50" stroke="#231f20" stroke-width="1.2"/>
<text x="258.90" y="626.27" font-size="8.2" class="tk" text-anchor="end" textLength="10.80" lengthAdjust="spacingAndGlyphs">0.5</text>
<line x1="262.10" y1="586.50" x2="265.30" y2="586.50" stroke="#231f20" stroke-width="1.2"/>
<text x="258.90" y="589.15" font-size="8.2" class="tk" text-anchor="end" textLength="10.80" lengthAdjust="spacingAndGlyphs">1.0</text>
<line x1="305.50" y1="586.00" x2="305.50" y2="663.75" stroke="#333" stroke-width="1.1"/>
<line x1="346.50" y1="586.00" x2="346.50" y2="663.75" stroke="#333" stroke-width="1.1"/>
<line x1="387.50" y1="586.00" x2="387.50" y2="663.75" stroke="#333" stroke-width="1.1"/>
<line x1="285.50" y1="663.75" x2="285.50" y2="667.05" stroke="#231f20" stroke-width="1.2"/>
<line x1="326.50" y1="663.75" x2="326.50" y2="667.05" stroke="#231f20" stroke-width="1.2"/>
<line x1="366.50" y1="663.75" x2="366.50" y2="667.05" stroke="#231f20" stroke-width="1.2"/>
<line x1="407.50" y1="663.75" x2="407.50" y2="667.05" stroke="#231f20" stroke-width="1.2"/>
<text transform="translate(242.30 662.20) rotate(-90)" font-size="9.9" class="al" textLength="77.20" lengthAdjust="spacingAndGlyphs">Normalized abundance</text>
<rect x="269.50" y="603.25" width="9.50" height="31.25" fill="#29a9e1"/>
<line x1="269.50" y1="620.00" x2="279.00" y2="620.00" stroke="#1a1a1a" stroke-width="1.8"/>
<line x1="285.50" y1="654.25" x2="285.50" y2="655.75" stroke="#333" stroke-width="1.1"/>
<line x1="282.88" y1="654.25" x2="287.88" y2="654.25" stroke="#333" stroke-width="1.2"/>
<line x1="285.50" y1="659.25" x2="285.50" y2="660.00" stroke="#333" stroke-width="1.1"/>
<line x1="282.88" y1="660.00" x2="287.88" y2="660.00" stroke="#333" stroke-width="1.2"/>
<rect x="280.75" y="655.75" width="9.25" height="3.50" fill="#c8102e"/>
<line x1="280.75" y1="657.50" x2="290.00" y2="657.50" stroke="#1a1a1a" stroke-width="1.8"/>
<rect x="291.25" y="659.60" width="10.00" height="1.80" fill="#ff9500"/>
<line x1="291.25" y1="660.50" x2="301.25" y2="660.50" stroke="#1a1a1a" stroke-width="1.8"/>
<text x="296.80" y="658.05" font-size="6.6" text-anchor="middle" textLength="9.20" lengthAdjust="spacingAndGlyphs">ND</text>
<path d="M273.75 601.30 V600.10 Q273.75 599.50 274.35 599.50 H284.90 Q285.50 599.50 285.50 600.10 V601.30" stroke="#2a2a2a" stroke-width="1.1" fill="none"/>
<path d="M279.62 594.25L279.62 596.95M278.46 594.93L280.79 596.27M280.79 594.93L278.46 596.27" stroke="#231f20" stroke-width="0.75" fill="none"/>
<rect x="310.50" y="620.75" width="9.50" height="19.75" fill="#29a9e1"/>
<line x1="310.50" y1="635.00" x2="320.00" y2="635.00" stroke="#1a1a1a" stroke-width="1.8"/>
<line x1="326.50" y1="645.50" x2="326.50" y2="649.25" stroke="#333" stroke-width="1.1"/>
<line x1="323.50" y1="645.50" x2="328.50" y2="645.50" stroke="#333" stroke-width="1.2"/>
<line x1="326.50" y1="655.50" x2="326.50" y2="658.75" stroke="#333" stroke-width="1.1"/>
<line x1="323.50" y1="658.75" x2="328.50" y2="658.75" stroke="#333" stroke-width="1.2"/>
<rect x="321.25" y="649.25" width="9.50" height="6.25" fill="#c8102e"/>
<line x1="321.25" y1="652.50" x2="330.75" y2="652.50" stroke="#1a1a1a" stroke-width="1.8"/>
<rect x="332.00" y="626.25" width="9.75" height="13.25" fill="#ff9500"/>
<line x1="332.00" y1="627.00" x2="341.75" y2="627.00" stroke="#1a1a1a" stroke-width="1.8"/>
<path d="M315.00 618.80 V617.60 Q315.00 617.00 315.60 617.00 H326.15 Q326.75 617.00 326.75 617.60 V618.80" stroke="#2a2a2a" stroke-width="1.1" fill="none"/>
<path d="M320.88 611.75L320.88 614.45M319.71 612.43L322.04 613.77M322.04 612.43L319.71 613.77" stroke="#231f20" stroke-width="0.75" fill="none"/>
<rect x="351.25" y="638.00" width="9.50" height="6.25" fill="#29a9e1"/>
<line x1="351.25" y1="640.50" x2="360.75" y2="640.50" stroke="#1a1a1a" stroke-width="1.8"/>
<line x1="366.50" y1="642.50" x2="366.50" y2="646.75" stroke="#333" stroke-width="1.1"/>
<line x1="364.38" y1="642.50" x2="369.38" y2="642.50" stroke="#333" stroke-width="1.2"/>
<line x1="366.50" y1="656.25" x2="366.50" y2="657.50" stroke="#333" stroke-width="1.1"/>
<line x1="364.38" y1="657.50" x2="369.38" y2="657.50" stroke="#333" stroke-width="1.2"/>
<rect x="362.00" y="646.75" width="9.75" height="9.50" fill="#c8102e"/>
<line x1="362.00" y1="652.50" x2="371.75" y2="652.50" stroke="#1a1a1a" stroke-width="1.8"/>
<rect x="373.00" y="659.60" width="10.00" height="1.80" fill="#ff9500"/>
<line x1="373.00" y1="660.50" x2="383.00" y2="660.50" stroke="#1a1a1a" stroke-width="1.8"/>
<text x="378.60" y="656.80" font-size="6.6" text-anchor="middle" textLength="9.20" lengthAdjust="spacingAndGlyphs">ND</text>
<path d="M356.25 636.05 V634.85 Q356.25 634.25 356.85 634.25 H366.90 Q367.50 634.25 367.50 634.85 V636.05" stroke="#2a2a2a" stroke-width="1.1" fill="none"/>
<text x="361.88" y="631.65" font-size="6.8" text-anchor="middle" textLength="9.40" lengthAdjust="spacingAndGlyphs">NS</text>
<rect x="392.00" y="631.25" width="9.75" height="12.00" fill="#29a9e1"/>
<line x1="392.00" y1="637.50" x2="401.75" y2="637.50" stroke="#1a1a1a" stroke-width="1.8"/>
<line x1="407.50" y1="621.25" x2="407.50" y2="640.00" stroke="#333" stroke-width="1.1"/>
<line x1="405.38" y1="621.25" x2="410.38" y2="621.25" stroke="#333" stroke-width="1.2"/>
<line x1="407.50" y1="654.50" x2="407.50" y2="658.00" stroke="#333" stroke-width="1.1"/>
<line x1="405.38" y1="658.00" x2="410.38" y2="658.00" stroke="#333" stroke-width="1.2"/>
<rect x="403.25" y="640.00" width="9.25" height="14.50" fill="#c8102e"/>
<line x1="403.25" y1="645.50" x2="412.50" y2="645.50" stroke="#1a1a1a" stroke-width="1.8"/>
<rect x="414.25" y="629.50" width="9.50" height="14.75" fill="#ff9500"/>
<line x1="414.25" y1="635.00" x2="423.75" y2="635.00" stroke="#1a1a1a" stroke-width="1.8"/>
<path d="M396.25 620.55 V619.35 Q396.25 618.75 396.85 618.75 H407.40 Q408.00 618.75 408.00 619.35 V620.55" stroke="#2a2a2a" stroke-width="1.1" fill="none"/>
<text x="402.12" y="616.15" font-size="6.8" text-anchor="middle" textLength="9.40" lengthAdjust="spacingAndGlyphs">NS</text>
<text transform="translate(282.40 670.50) rotate(-90)" font-size="7.9" text-anchor="end" textLength="17.50" lengthAdjust="spacingAndGlyphs">TP53</text>
<text transform="translate(290.90 670.50) rotate(-90)" font-size="7.9" text-anchor="end" textLength="21.00" lengthAdjust="spacingAndGlyphs">p183s</text>
<text transform="translate(323.60 670.50) rotate(-90)" font-size="7.9" text-anchor="end" textLength="15.00" lengthAdjust="spacingAndGlyphs">FYN</text>
<text transform="translate(332.10 670.50) rotate(-90)" font-size="7.9" text-anchor="end" textLength="21.00" lengthAdjust="spacingAndGlyphs">p420y</text>
<text transform="translate(363.80 670.50) rotate(-90)" font-size="7.9" text-anchor="end" textLength="17.50" lengthAdjust="spacingAndGlyphs">TP53</text>
<text transform="translate(372.30 670.50) rotate(-90)" font-size="7.9" text-anchor="end" textLength="24.80" lengthAdjust="spacingAndGlyphs">protein</text>
<text transform="translate(404.50 670.50) rotate(-90)" font-size="7.9" text-anchor="end" textLength="15.00" lengthAdjust="spacingAndGlyphs">FYN</text>
<text transform="translate(413.00 670.50) rotate(-90)" font-size="7.9" text-anchor="end" textLength="24.80" lengthAdjust="spacingAndGlyphs">protein</text>
<rect x="436.30" y="603.00" width="5.20" height="5.20" fill="#29a9e1"/>
<text x="444.90" y="608.70" font-size="7.7" class="lg" textLength="68.70" lengthAdjust="spacingAndGlyphs">TP53 mut AML (n=4)</text>
<rect x="436.30" y="614.50" width="5.20" height="5.20" fill="#c8102e"/>
<text x="444.90" y="620.20" font-size="7.7" class="lg" textLength="60.20" lengthAdjust="spacingAndGlyphs">Other AML (n=40)</text>
<rect x="436.30" y="625.40" width="5.20" height="5.20" fill="#ff9500"/>
<text x="444.90" y="631.10" font-size="7.7" class="lg" textLength="58.00" lengthAdjust="spacingAndGlyphs">Healthy BM (n=3)</text>
</svg></body></html>
